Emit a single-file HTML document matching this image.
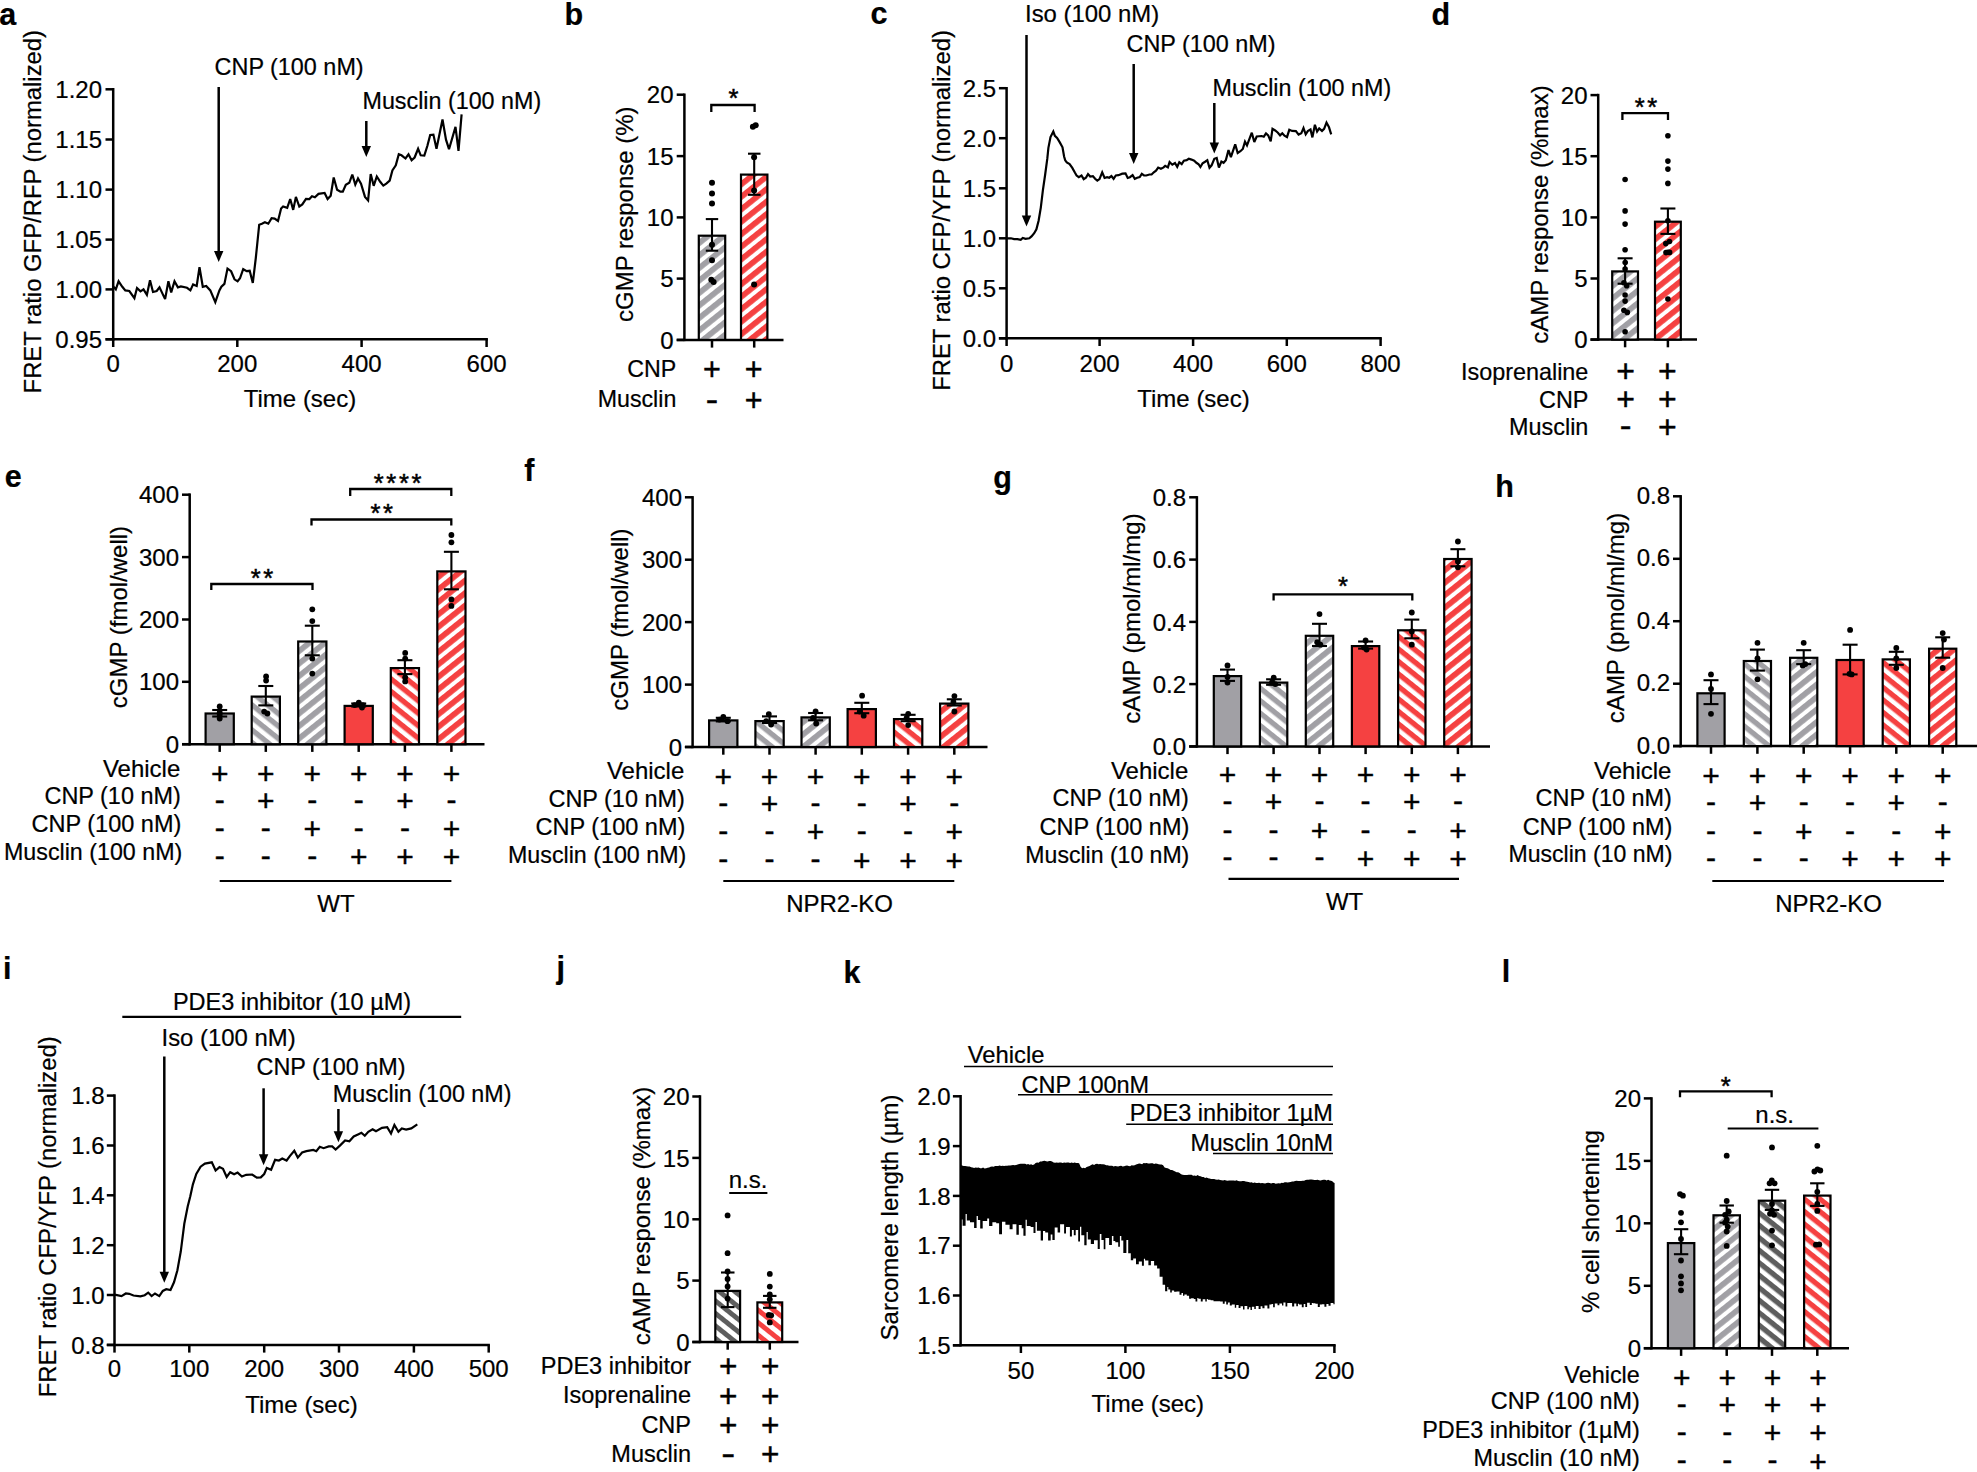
<!DOCTYPE html>
<html lang="en"><head><meta charset="utf-8"><title>Figure</title>
<style>html,body{margin:0;padding:0;background:#fff}svg{display:block}text{font-family:"Liberation Sans",sans-serif;font-size:24px;fill:#000;stroke:#000;stroke-width:.22px}.pm{stroke-width:.45px}.st{stroke-width:.5px}</style></head><body>
<svg width="1977" height="1472" viewBox="0 0 1977 1472">
<rect width="1977" height="1472" fill="#fff"/>
<defs>
<pattern id="gF" patternUnits="userSpaceOnUse" width="20" height="9.75" patternTransform="rotate(-38.7)"><rect width="20" height="9.75" fill="#fff"/><rect width="20" height="5.7" fill="#a1a0a5"/></pattern>
<pattern id="gB" patternUnits="userSpaceOnUse" width="20" height="9.75" patternTransform="rotate(38.7)"><rect width="20" height="9.75" fill="#fff"/><rect width="20" height="5.3" fill="#a1a0a5"/></pattern>
<pattern id="rF" patternUnits="userSpaceOnUse" width="20" height="9.75" patternTransform="rotate(-38.7)"><rect width="20" height="9.75" fill="#fff"/><rect width="20" height="5.7" fill="#f54141"/></pattern>
<pattern id="rB" patternUnits="userSpaceOnUse" width="20" height="9.75" patternTransform="rotate(38.7)"><rect width="20" height="9.75" fill="#fff"/><rect width="20" height="5.3" fill="#f54141"/></pattern>
<pattern id="dB" patternUnits="userSpaceOnUse" width="20" height="9.75" patternTransform="rotate(38.7)"><rect width="20" height="9.75" fill="#fff"/><rect width="20" height="5.3" fill="#5e5e5e"/></pattern>
<pattern id="dJ" patternUnits="userSpaceOnUse" width="20" height="9.75" patternTransform="rotate(38.7)"><rect width="20" height="9.75" fill="#fff"/><rect width="20" height="4.9" fill="#5e5e5e"/></pattern>
<pattern id="rJ" patternUnits="userSpaceOnUse" width="20" height="9.75" patternTransform="rotate(38.7)"><rect width="20" height="9.75" fill="#fff"/><rect width="20" height="4.9" fill="#f54141"/></pattern>
</defs>
<text x="-0.8" y="25" font-weight="bold" style="font-size:30.5px">a</text>
<line x1="113.2" y1="88" x2="113.2" y2="340.6" stroke="#000" stroke-width="2.5" stroke-linecap="butt"/>
<line x1="105.5" y1="89.3" x2="113.2" y2="89.3" stroke="#000" stroke-width="2.5" stroke-linecap="butt"/>
<text x="102" y="97.9" text-anchor="end">1.20</text>
<line x1="105.5" y1="139.5" x2="113.2" y2="139.5" stroke="#000" stroke-width="2.5" stroke-linecap="butt"/>
<text x="102" y="148.1" text-anchor="end">1.15</text>
<line x1="105.5" y1="189.6" x2="113.2" y2="189.6" stroke="#000" stroke-width="2.5" stroke-linecap="butt"/>
<text x="102" y="198.2" text-anchor="end">1.10</text>
<line x1="105.5" y1="239.6" x2="113.2" y2="239.6" stroke="#000" stroke-width="2.5" stroke-linecap="butt"/>
<text x="102" y="248.2" text-anchor="end">1.05</text>
<line x1="105.5" y1="289.4" x2="113.2" y2="289.4" stroke="#000" stroke-width="2.5" stroke-linecap="butt"/>
<text x="102" y="298" text-anchor="end">1.00</text>
<line x1="105.5" y1="339.3" x2="113.2" y2="339.3" stroke="#000" stroke-width="2.5" stroke-linecap="butt"/>
<text x="102" y="347.9" text-anchor="end">0.95</text>
<line x1="105.5" y1="339.3" x2="487.9" y2="339.3" stroke="#000" stroke-width="2.5" stroke-linecap="butt"/>
<line x1="113.2" y1="339.3" x2="113.2" y2="347" stroke="#000" stroke-width="2.5" stroke-linecap="butt"/>
<text x="113.2" y="371.7" text-anchor="middle">0</text>
<line x1="237.3" y1="339.3" x2="237.3" y2="347" stroke="#000" stroke-width="2.5" stroke-linecap="butt"/>
<text x="237.3" y="371.7" text-anchor="middle">200</text>
<line x1="361.6" y1="339.3" x2="361.6" y2="347" stroke="#000" stroke-width="2.5" stroke-linecap="butt"/>
<text x="361.6" y="371.7" text-anchor="middle">400</text>
<line x1="486.6" y1="339.3" x2="486.6" y2="347" stroke="#000" stroke-width="2.5" stroke-linecap="butt"/>
<text x="486.6" y="371.7" text-anchor="middle">600</text>
<text x="300" y="407.4" text-anchor="middle">Time (sec)</text>
<text x="41.5" y="211.7" text-anchor="middle" transform="rotate(-90 41.5 211.7)" style="font-size:23.85px">FRET ratio GFP/RFP (normalized)</text>
<text x="214.6" y="75" style="font-size:23.4px">CNP (100 nM)</text>
<text x="362.5" y="109" style="font-size:23.3px">Musclin (100 nM)</text>
<line x1="218.7" y1="87" x2="218.7" y2="252" stroke="#000" stroke-width="2.5" stroke-linecap="butt"/>
<polygon points="214,251 223.4,251 218.7,262" fill="#000"/>
<line x1="366.3" y1="121" x2="366.3" y2="147" stroke="#000" stroke-width="2.5" stroke-linecap="butt"/>
<polygon points="361.6,146 371,146 366.3,157" fill="#000"/>
<polyline fill="none" stroke="#000" stroke-width="2.2" stroke-linejoin="miter" stroke-miterlimit="3" points="113.2,286.4 115.8,289.4 118.6,281.3 122.3,286.8 125.3,290.4 129.3,291 134.4,298.1 137,288 140.5,291.4 143.5,289.4 146.9,294.9 150,280.3 153,292 156.7,291 159.5,287.4 165.1,299.1 168.4,281.3 171.2,292.4 174.5,281.3 177.9,287.4 180.9,286.4 187,287.8 190.4,290.4 193.1,284.4 196.7,286 199.5,267.2 202.8,286.8 206.2,286 210.3,290.4 215.3,302.2 219.4,290.4 221.4,286.8 224.4,283.9 227.5,268.6 231.1,271.2 234.5,279.3 237.6,281.3 240,278.3 243.2,269.2 246.7,271.2 249.7,270.8 252.8,282.9 255.8,258 259.2,224.7 261.9,223.7 264.9,222.2 268.3,223.7 271.6,218.2 274.6,218.6 278,221 281.1,208.5 283.1,206.5 287.2,207.9 290.2,199 293.2,209.9 295.9,196.9 299.3,206.5 302.3,204.4 306,198.8 309.4,199 312,196.3 314.9,197.3 318.5,193.9 324.6,192.9 327.6,199 330.7,195.7 333.7,177.5 337.1,189.7 340.4,191.7 342.8,191.7 345.8,184.8 349.3,182.8 352.3,174.5 355.3,184.6 358,178.5 361,183.8 365,196.9 368.1,200.4 370.7,174.1 373.7,185.8 376.8,176.5 380.2,181.8 383.3,185.6 386.3,183.6 389.7,180.6 392.4,170.4 395.8,165.4 398.8,154.3 401.5,155.3 405.5,158.5 408.5,154.3 411.6,160.3 414.6,157.5 418.1,148.8 420.7,155.3 424.3,155.5 427.4,145.8 430.2,135 433.4,134.6 436.5,148.8 442.5,119.5 446,139.7 449,149.2 455.5,126.9 458.5,150.8 461.6,114.4"/>
<text x="564.5" y="25" font-weight="bold" style="font-size:30.5px">b</text>
<line x1="684.4" y1="93.5" x2="684.4" y2="341.1" stroke="#000" stroke-width="2.5" stroke-linecap="butt"/>
<line x1="676.7" y1="94.7" x2="684.4" y2="94.7" stroke="#000" stroke-width="2.5" stroke-linecap="butt"/>
<text x="673.5" y="103.3" text-anchor="end">20</text>
<line x1="676.7" y1="156.1" x2="684.4" y2="156.1" stroke="#000" stroke-width="2.5" stroke-linecap="butt"/>
<text x="673.5" y="164.7" text-anchor="end">15</text>
<line x1="676.7" y1="217.4" x2="684.4" y2="217.4" stroke="#000" stroke-width="2.5" stroke-linecap="butt"/>
<text x="673.5" y="226" text-anchor="end">10</text>
<line x1="676.7" y1="278.6" x2="684.4" y2="278.6" stroke="#000" stroke-width="2.5" stroke-linecap="butt"/>
<text x="673.5" y="287.2" text-anchor="end">5</text>
<line x1="676.7" y1="339.9" x2="684.4" y2="339.9" stroke="#000" stroke-width="2.5" stroke-linecap="butt"/>
<text x="673.5" y="348.5" text-anchor="end">0</text>
<line x1="676.7" y1="339.9" x2="783.5" y2="339.9" stroke="#000" stroke-width="2.5" stroke-linecap="butt"/>
<line x1="712" y1="339.9" x2="712" y2="347.6" stroke="#000" stroke-width="2.5" stroke-linecap="butt"/>
<line x1="754.2" y1="339.9" x2="754.2" y2="347.6" stroke="#000" stroke-width="2.5" stroke-linecap="butt"/>
<text x="632.7" y="214.2" text-anchor="middle" transform="rotate(-90 632.7 214.2)">cGMP response (%)</text>
<rect x="698.8" y="235.7" width="26.4" height="104.2" fill="url(#gF)" stroke="#000" stroke-width="2.2"/>
<rect x="741" y="174.6" width="26.4" height="165.3" fill="url(#rF)" stroke="#000" stroke-width="2.2"/>
<line x1="712" y1="219.1" x2="712" y2="250.7" stroke="#000" stroke-width="2.1" stroke-linecap="butt"/>
<line x1="705.8" y1="219.1" x2="718.2" y2="219.1" stroke="#000" stroke-width="2.1" stroke-linecap="butt"/>
<line x1="705.8" y1="250.7" x2="718.2" y2="250.7" stroke="#000" stroke-width="2.1" stroke-linecap="butt"/>
<line x1="754.2" y1="153.7" x2="754.2" y2="194.8" stroke="#000" stroke-width="2.1" stroke-linecap="butt"/>
<line x1="748" y1="153.7" x2="760.5" y2="153.7" stroke="#000" stroke-width="2.1" stroke-linecap="butt"/>
<line x1="748" y1="194.8" x2="760.5" y2="194.8" stroke="#000" stroke-width="2.1" stroke-linecap="butt"/>
<circle cx="712" cy="182.7" r="3.0"/>
<circle cx="712" cy="193.4" r="3.0"/>
<circle cx="712" cy="203.6" r="3.0"/>
<circle cx="712" cy="244.8" r="3.0"/>
<circle cx="712" cy="260.2" r="3.0"/>
<circle cx="711.3" cy="279.7" r="3.0"/>
<circle cx="713.6" cy="282.1" r="3.0"/>
<circle cx="752.9" cy="126.8" r="3.0"/>
<circle cx="755.7" cy="125.2" r="3.0"/>
<circle cx="754.1" cy="157.3" r="3.0"/>
<circle cx="754.1" cy="190.6" r="3.0"/>
<circle cx="754.1" cy="284.5" r="3.0"/>
<polyline fill="none" stroke="#000" stroke-width="2.3" points="711.3,112 711.3,105 754.6,105 754.6,112"/>
<text x="734.7" y="107.3" text-anchor="middle" style="font-size:25.5px" letter-spacing="2.6" class="st">*</text>
<text x="676.3" y="376.6" text-anchor="end" style="font-size:23.2px">CNP</text>
<text x="676.3" y="407.4" text-anchor="end" style="font-size:23.2px">Musclin</text>
<text x="711.9" y="380" text-anchor="middle" style="font-size:30.5px" class="pm">+</text>
<text x="753.6" y="380" text-anchor="middle" style="font-size:30.5px" class="pm">+</text>
<text transform="translate(711.9 409.7) scale(1.22 1)" text-anchor="middle" class="pm" style="font-size:30.5px">-</text>
<text x="753.6" y="411" text-anchor="middle" style="font-size:30.5px" class="pm">+</text>
<text x="870.5" y="23.5" font-weight="bold" style="font-size:30.5px">c</text>
<line x1="1006.6" y1="87" x2="1006.6" y2="339.6" stroke="#000" stroke-width="2.5" stroke-linecap="butt"/>
<line x1="998.9" y1="88.2" x2="1006.6" y2="88.2" stroke="#000" stroke-width="2.5" stroke-linecap="butt"/>
<text x="996" y="96.8" text-anchor="end">2.5</text>
<line x1="998.9" y1="138.2" x2="1006.6" y2="138.2" stroke="#000" stroke-width="2.5" stroke-linecap="butt"/>
<text x="996" y="146.8" text-anchor="end">2.0</text>
<line x1="998.9" y1="188.3" x2="1006.6" y2="188.3" stroke="#000" stroke-width="2.5" stroke-linecap="butt"/>
<text x="996" y="196.9" text-anchor="end">1.5</text>
<line x1="998.9" y1="238.3" x2="1006.6" y2="238.3" stroke="#000" stroke-width="2.5" stroke-linecap="butt"/>
<text x="996" y="246.9" text-anchor="end">1.0</text>
<line x1="998.9" y1="288.3" x2="1006.6" y2="288.3" stroke="#000" stroke-width="2.5" stroke-linecap="butt"/>
<text x="996" y="296.9" text-anchor="end">0.5</text>
<line x1="998.9" y1="338.3" x2="1006.6" y2="338.3" stroke="#000" stroke-width="2.5" stroke-linecap="butt"/>
<text x="996" y="346.9" text-anchor="end">0.0</text>
<line x1="998.9" y1="338.3" x2="1381.8" y2="338.3" stroke="#000" stroke-width="2.5" stroke-linecap="butt"/>
<line x1="1006.6" y1="338.3" x2="1006.6" y2="346" stroke="#000" stroke-width="2.5" stroke-linecap="butt"/>
<text x="1006.6" y="371.5" text-anchor="middle">0</text>
<line x1="1099.6" y1="338.3" x2="1099.6" y2="346" stroke="#000" stroke-width="2.5" stroke-linecap="butt"/>
<text x="1099.6" y="371.5" text-anchor="middle">200</text>
<line x1="1193.1" y1="338.3" x2="1193.1" y2="346" stroke="#000" stroke-width="2.5" stroke-linecap="butt"/>
<text x="1193.1" y="371.5" text-anchor="middle">400</text>
<line x1="1286.8" y1="338.3" x2="1286.8" y2="346" stroke="#000" stroke-width="2.5" stroke-linecap="butt"/>
<text x="1286.8" y="371.5" text-anchor="middle">600</text>
<line x1="1380.6" y1="338.3" x2="1380.6" y2="346" stroke="#000" stroke-width="2.5" stroke-linecap="butt"/>
<text x="1380.6" y="371.5" text-anchor="middle">800</text>
<text x="1193.5" y="406.5" text-anchor="middle">Time (sec)</text>
<text x="949.7" y="210.4" text-anchor="middle" transform="rotate(-90 949.7 210.4)" style="font-size:23.85px">FRET ratio CFP/YFP (normalized)</text>
<text x="1025" y="21.5" style="font-size:23.9px">Iso (100 nM)</text>
<text x="1126.5" y="52" style="font-size:23.4px">CNP (100 nM)</text>
<text x="1212.5" y="95.5" style="font-size:23.3px">Musclin (100 nM)</text>
<line x1="1026.5" y1="35" x2="1026.5" y2="216.5" stroke="#000" stroke-width="2.5" stroke-linecap="butt"/>
<polygon points="1021.8,215.5 1031.2,215.5 1026.5,226.5" fill="#000"/>
<line x1="1133.7" y1="64" x2="1133.7" y2="154" stroke="#000" stroke-width="2.5" stroke-linecap="butt"/>
<polygon points="1129,153 1138.4,153 1133.7,164" fill="#000"/>
<line x1="1214.3" y1="103" x2="1214.3" y2="143.5" stroke="#000" stroke-width="2.5" stroke-linecap="butt"/>
<polygon points="1209.6,142.5 1219,142.5 1214.3,153.5" fill="#000"/>
<polyline fill="none" stroke="#000" stroke-width="2.2" stroke-linejoin="miter" stroke-miterlimit="3" points="1006.7,238.3 1010.9,238.3 1014.1,239.1 1017.4,239.1 1020.7,239.9 1022.8,238 1025.5,238.9 1029.3,238.3 1031.5,236.4 1034.2,233.2 1036.4,229.3 1038.6,220.7 1040.8,207.6 1042.9,190.2 1045.1,175 1047.3,158.7 1048.4,147.8 1050.5,137 1053.3,131.5 1054.9,135.9 1057.1,138 1059.8,142.4 1062.5,147.3 1064.1,156.5 1065.2,160.3 1066.8,162.5 1069.6,164.1 1072.3,167.9 1075,172.8 1076.6,175.5 1078.8,177.2 1081.5,175.5 1083.7,179.1 1085.9,177.7 1088,174.1 1090.2,176.6 1092.9,176.1 1095.1,178.8 1097.3,180.7 1099.5,179.1 1102.2,172.3 1104.6,178 1107.1,177.2 1109.2,177.7 1111.4,176.1 1113.6,178.8 1115.8,175.5 1118.5,175.2 1122.3,173.7 1125.5,173.4 1127.7,178 1129.9,177.2 1132.6,175.2 1134.8,178.8 1137.2,177.7 1139.7,177 1141.8,173.9 1144,175.5 1146.2,175.5 1149.5,174.5 1151.6,174.5 1153.8,172.3 1156,170.7 1158.2,167.6 1160.9,168.7 1163.6,167.4 1165.2,165.8 1167.9,167.4 1169.6,162 1172.3,164.7 1175,163 1177.2,166.8 1179.3,162.2 1181.7,164.2 1183.9,160.7 1186.6,160.2 1188.8,158.8 1191.5,159.6 1194.2,160.7 1196.4,162.8 1198.6,164.2 1200.4,167 1202.6,163.2 1205.1,161.7 1207.3,160.2 1209.5,167.8 1211.6,165.3 1214.3,158.8 1216.7,158 1218.9,167.5 1221.4,161.5 1223.6,162.8 1225.8,160.2 1228.5,150.1 1230.9,157.2 1235.2,144.3 1237.7,153 1240.4,151.2 1242.8,149 1245,141.7 1247,145.4 1251.8,132.7 1254.3,142 1256.7,136.5 1261.6,136 1263.8,136.7 1266,133.5 1268.2,135.4 1270.7,141.4 1272.5,128.9 1275.2,130.5 1277.9,132.7 1280.1,135.4 1282.3,133.3 1284.5,135.7 1287,137.1 1289.3,129.8 1292.1,130.9 1295.9,131.1 1298.6,134.6 1301.3,133.3 1303.5,128 1305.7,134.3 1307.8,131.1 1310.5,129.5 1312.4,137.4 1314.9,124.8 1317.1,131.6 1319.2,128.4 1322,130.9 1324.1,128.9 1326.5,122.6 1329,127.3 1331.2,134.3"/>
<text x="1431.5" y="24.8" font-weight="bold" style="font-size:30.5px">d</text>
<line x1="1598.2" y1="93.8" x2="1598.2" y2="340.9" stroke="#000" stroke-width="2.5" stroke-linecap="butt"/>
<line x1="1590.5" y1="95.1" x2="1598.2" y2="95.1" stroke="#000" stroke-width="2.5" stroke-linecap="butt"/>
<text x="1587.5" y="103.7" text-anchor="end">20</text>
<line x1="1590.5" y1="156.2" x2="1598.2" y2="156.2" stroke="#000" stroke-width="2.5" stroke-linecap="butt"/>
<text x="1587.5" y="164.8" text-anchor="end">15</text>
<line x1="1590.5" y1="217.4" x2="1598.2" y2="217.4" stroke="#000" stroke-width="2.5" stroke-linecap="butt"/>
<text x="1587.5" y="226" text-anchor="end">10</text>
<line x1="1590.5" y1="278.5" x2="1598.2" y2="278.5" stroke="#000" stroke-width="2.5" stroke-linecap="butt"/>
<text x="1587.5" y="287.1" text-anchor="end">5</text>
<line x1="1590.5" y1="339.6" x2="1598.2" y2="339.6" stroke="#000" stroke-width="2.5" stroke-linecap="butt"/>
<text x="1587.5" y="348.2" text-anchor="end">0</text>
<line x1="1590.5" y1="339.6" x2="1697" y2="339.6" stroke="#000" stroke-width="2.5" stroke-linecap="butt"/>
<line x1="1625.1" y1="339.6" x2="1625.1" y2="347.3" stroke="#000" stroke-width="2.5" stroke-linecap="butt"/>
<line x1="1667.9" y1="339.6" x2="1667.9" y2="347.3" stroke="#000" stroke-width="2.5" stroke-linecap="butt"/>
<text x="1548" y="214.5" text-anchor="middle" transform="rotate(-90 1548 214.5)">cAMP response (%max)</text>
<rect x="1612.2" y="271.4" width="25.8" height="68.2" fill="url(#gF)" stroke="#000" stroke-width="2.2"/>
<rect x="1655" y="221.7" width="25.8" height="117.9" fill="url(#rF)" stroke="#000" stroke-width="2.2"/>
<line x1="1625.1" y1="258.3" x2="1625.1" y2="283.7" stroke="#000" stroke-width="2.1" stroke-linecap="butt"/>
<line x1="1617.6" y1="258.3" x2="1632.6" y2="258.3" stroke="#000" stroke-width="2.1" stroke-linecap="butt"/>
<line x1="1617.6" y1="283.7" x2="1632.6" y2="283.7" stroke="#000" stroke-width="2.1" stroke-linecap="butt"/>
<line x1="1667.9" y1="208.5" x2="1667.9" y2="233.9" stroke="#000" stroke-width="2.1" stroke-linecap="butt"/>
<line x1="1660.4" y1="208.5" x2="1675.4" y2="208.5" stroke="#000" stroke-width="2.1" stroke-linecap="butt"/>
<line x1="1660.4" y1="233.9" x2="1675.4" y2="233.9" stroke="#000" stroke-width="2.1" stroke-linecap="butt"/>
<circle cx="1625.1" cy="179.5" r="2.8"/>
<circle cx="1625.1" cy="210.9" r="2.8"/>
<circle cx="1625.1" cy="224.1" r="2.8"/>
<circle cx="1625.1" cy="249.8" r="2.8"/>
<circle cx="1625.1" cy="269" r="2.8"/>
<circle cx="1623.9" cy="282.8" r="2.8"/>
<circle cx="1626.7" cy="285.8" r="2.8"/>
<circle cx="1625.1" cy="295" r="2.8"/>
<circle cx="1625.1" cy="301.1" r="2.8"/>
<circle cx="1623.9" cy="310.3" r="2.8"/>
<circle cx="1627.3" cy="312.4" r="2.8"/>
<circle cx="1625.1" cy="331.7" r="2.8"/>
<circle cx="1667.9" cy="135.7" r="2.8"/>
<circle cx="1667.9" cy="161.1" r="2.8"/>
<circle cx="1667.9" cy="169.1" r="2.8"/>
<circle cx="1667.9" cy="183.4" r="2.8"/>
<circle cx="1667.9" cy="220.7" r="2.8"/>
<circle cx="1669.5" cy="241.5" r="2.8"/>
<circle cx="1665.8" cy="243.6" r="2.8"/>
<circle cx="1667.9" cy="252.2" r="2.8"/>
<circle cx="1667.9" cy="299" r="2.8"/>
<circle cx="1625.2" cy="262.5" r="2.8"/>
<circle cx="1669.6" cy="252.4" r="2.8"/>
<circle cx="1666" cy="252.6" r="2.8"/>
<polyline fill="none" stroke="#000" stroke-width="2.3" points="1622.4,120.1 1622.4,113.1 1668,113.1 1668,120.1"/>
<text x="1647.2" y="116" text-anchor="middle" style="font-size:25.5px" letter-spacing="2.6" class="st">**</text>
<text x="1588.4" y="379.7" text-anchor="end" style="font-size:23.4px">Isoprenaline</text>
<text x="1588.4" y="407.5" text-anchor="end" style="font-size:23.4px">CNP</text>
<text x="1588.4" y="435.3" text-anchor="end" style="font-size:23.4px">Musclin</text>
<text x="1625.6" y="381.8" text-anchor="middle" style="font-size:32px" class="pm">+</text>
<text x="1667.4" y="381.8" text-anchor="middle" style="font-size:32px" class="pm">+</text>
<text x="1625.6" y="409.7" text-anchor="middle" style="font-size:32px" class="pm">+</text>
<text x="1667.4" y="409.7" text-anchor="middle" style="font-size:32px" class="pm">+</text>
<text transform="translate(1625.6 436.4) scale(1.1 1)" text-anchor="middle" class="pm" style="font-size:32px">-</text>
<text x="1667.4" y="437.7" text-anchor="middle" style="font-size:32px" class="pm">+</text>
<text x="4.8" y="486.5" font-weight="bold" style="font-size:30.5px">e</text>
<line x1="189.7" y1="493.4" x2="189.7" y2="745.5" stroke="#000" stroke-width="2.5" stroke-linecap="butt"/>
<line x1="182" y1="494.7" x2="189.7" y2="494.7" stroke="#000" stroke-width="2.5" stroke-linecap="butt"/>
<text x="179" y="503.3" text-anchor="end">400</text>
<line x1="182" y1="557.1" x2="189.7" y2="557.1" stroke="#000" stroke-width="2.5" stroke-linecap="butt"/>
<text x="179" y="565.7" text-anchor="end">300</text>
<line x1="182" y1="619.5" x2="189.7" y2="619.5" stroke="#000" stroke-width="2.5" stroke-linecap="butt"/>
<text x="179" y="628.1" text-anchor="end">200</text>
<line x1="182" y1="681.8" x2="189.7" y2="681.8" stroke="#000" stroke-width="2.5" stroke-linecap="butt"/>
<text x="179" y="690.4" text-anchor="end">100</text>
<line x1="182" y1="744.2" x2="189.7" y2="744.2" stroke="#000" stroke-width="2.5" stroke-linecap="butt"/>
<text x="179" y="752.8" text-anchor="end">0</text>
<line x1="182" y1="744.2" x2="484.5" y2="744.2" stroke="#000" stroke-width="2.5" stroke-linecap="butt"/>
<line x1="219.7" y1="744.2" x2="219.7" y2="751.9" stroke="#000" stroke-width="2.5" stroke-linecap="butt"/>
<line x1="265.8" y1="744.2" x2="265.8" y2="751.9" stroke="#000" stroke-width="2.5" stroke-linecap="butt"/>
<line x1="312.3" y1="744.2" x2="312.3" y2="751.9" stroke="#000" stroke-width="2.5" stroke-linecap="butt"/>
<line x1="358.7" y1="744.2" x2="358.7" y2="751.9" stroke="#000" stroke-width="2.5" stroke-linecap="butt"/>
<line x1="404.9" y1="744.2" x2="404.9" y2="751.9" stroke="#000" stroke-width="2.5" stroke-linecap="butt"/>
<line x1="451.4" y1="744.2" x2="451.4" y2="751.9" stroke="#000" stroke-width="2.5" stroke-linecap="butt"/>
<text x="127" y="617" text-anchor="middle" transform="rotate(-90 127 617)">cGMP (fmol/well)</text>
<rect x="205.6" y="713.5" width="28.2" height="30.7" fill="#a1a0a5" stroke="#000" stroke-width="2.2"/>
<rect x="251.7" y="696.6" width="28.2" height="47.6" fill="url(#gB)" stroke="#000" stroke-width="2.2"/>
<rect x="298.2" y="641.5" width="28.2" height="102.7" fill="url(#gF)" stroke="#000" stroke-width="2.2"/>
<rect x="344.6" y="705.9" width="28.2" height="38.3" fill="#f54141" stroke="#000" stroke-width="2.2"/>
<rect x="390.8" y="668.1" width="28.2" height="76.1" fill="url(#rB)" stroke="#000" stroke-width="2.2"/>
<rect x="437.3" y="571.4" width="28.2" height="172.8" fill="url(#rF)" stroke="#000" stroke-width="2.2"/>
<line x1="219.7" y1="710" x2="219.7" y2="716.5" stroke="#000" stroke-width="2.1" stroke-linecap="butt"/>
<line x1="212.2" y1="710" x2="227.2" y2="710" stroke="#000" stroke-width="2.1" stroke-linecap="butt"/>
<line x1="212.2" y1="716.5" x2="227.2" y2="716.5" stroke="#000" stroke-width="2.1" stroke-linecap="butt"/>
<line x1="265.8" y1="686" x2="265.8" y2="705.4" stroke="#000" stroke-width="2.1" stroke-linecap="butt"/>
<line x1="258.3" y1="686" x2="273.3" y2="686" stroke="#000" stroke-width="2.1" stroke-linecap="butt"/>
<line x1="258.3" y1="705.4" x2="273.3" y2="705.4" stroke="#000" stroke-width="2.1" stroke-linecap="butt"/>
<line x1="312.3" y1="625.7" x2="312.3" y2="655.3" stroke="#000" stroke-width="2.1" stroke-linecap="butt"/>
<line x1="304.8" y1="625.7" x2="319.8" y2="625.7" stroke="#000" stroke-width="2.1" stroke-linecap="butt"/>
<line x1="304.8" y1="655.3" x2="319.8" y2="655.3" stroke="#000" stroke-width="2.1" stroke-linecap="butt"/>
<line x1="358.7" y1="703.5" x2="358.7" y2="706.5" stroke="#000" stroke-width="2.1" stroke-linecap="butt"/>
<line x1="351.2" y1="703.5" x2="366.2" y2="703.5" stroke="#000" stroke-width="2.1" stroke-linecap="butt"/>
<line x1="351.2" y1="706.5" x2="366.2" y2="706.5" stroke="#000" stroke-width="2.1" stroke-linecap="butt"/>
<line x1="404.9" y1="660.2" x2="404.9" y2="674.1" stroke="#000" stroke-width="2.1" stroke-linecap="butt"/>
<line x1="397.4" y1="660.2" x2="412.4" y2="660.2" stroke="#000" stroke-width="2.1" stroke-linecap="butt"/>
<line x1="397.4" y1="674.1" x2="412.4" y2="674.1" stroke="#000" stroke-width="2.1" stroke-linecap="butt"/>
<line x1="451.4" y1="551.8" x2="451.4" y2="589.3" stroke="#000" stroke-width="2.1" stroke-linecap="butt"/>
<line x1="443.9" y1="551.8" x2="458.9" y2="551.8" stroke="#000" stroke-width="2.1" stroke-linecap="butt"/>
<line x1="443.9" y1="589.3" x2="458.9" y2="589.3" stroke="#000" stroke-width="2.1" stroke-linecap="butt"/>
<circle cx="219.7" cy="706.4" r="2.9"/>
<circle cx="219.7" cy="712.4" r="2.9"/>
<circle cx="219.7" cy="714.8" r="2.9"/>
<circle cx="219.7" cy="718.6" r="2.9"/>
<circle cx="266.1" cy="676.5" r="2.9"/>
<circle cx="266.1" cy="680.6" r="2.9"/>
<circle cx="264.2" cy="711.6" r="2.9"/>
<circle cx="267.4" cy="713.5" r="2.9"/>
<circle cx="312.3" cy="609.3" r="2.9"/>
<circle cx="312.3" cy="621.1" r="2.9"/>
<circle cx="312.3" cy="658.6" r="2.9"/>
<circle cx="312.3" cy="673.6" r="2.9"/>
<circle cx="354.7" cy="705.1" r="2.9"/>
<circle cx="358.8" cy="702.6" r="2.9"/>
<circle cx="362.8" cy="705.1" r="2.9"/>
<circle cx="362" cy="707.5" r="2.9"/>
<circle cx="405.2" cy="652.9" r="2.9"/>
<circle cx="405.2" cy="658.6" r="2.9"/>
<circle cx="405.2" cy="677.3" r="2.9"/>
<circle cx="405.2" cy="681.4" r="2.9"/>
<circle cx="451.4" cy="535" r="2.9"/>
<circle cx="451.4" cy="542.3" r="2.9"/>
<circle cx="451.4" cy="599.4" r="2.9"/>
<circle cx="451.4" cy="605.9" r="2.9"/>
<text x="180.3" y="776.8" text-anchor="end">Vehicle</text>
<text x="219.7" y="784" text-anchor="middle" style="font-size:30px" class="pm">+</text>
<text x="265.8" y="784" text-anchor="middle" style="font-size:30px" class="pm">+</text>
<text x="312.3" y="784" text-anchor="middle" style="font-size:30px" class="pm">+</text>
<text x="358.7" y="784" text-anchor="middle" style="font-size:30px" class="pm">+</text>
<text x="404.9" y="784" text-anchor="middle" style="font-size:30px" class="pm">+</text>
<text x="451.4" y="784" text-anchor="middle" style="font-size:30px" class="pm">+</text>
<text x="180.8" y="803.8" text-anchor="end" style="font-size:23.45px">CNP (10 nM)</text>
<text x="219.7" y="809.7" text-anchor="middle" style="font-size:30px" class="pm">-</text>
<text x="265.8" y="811" text-anchor="middle" style="font-size:30px" class="pm">+</text>
<text x="312.3" y="809.7" text-anchor="middle" style="font-size:30px" class="pm">-</text>
<text x="358.7" y="809.7" text-anchor="middle" style="font-size:30px" class="pm">-</text>
<text x="404.9" y="811" text-anchor="middle" style="font-size:30px" class="pm">+</text>
<text x="451.4" y="809.7" text-anchor="middle" style="font-size:30px" class="pm">-</text>
<text x="181.3" y="831.8" text-anchor="end" style="font-size:23.5px">CNP (100 nM)</text>
<text x="219.7" y="837.7" text-anchor="middle" style="font-size:30px" class="pm">-</text>
<text x="265.8" y="837.7" text-anchor="middle" style="font-size:30px" class="pm">-</text>
<text x="312.3" y="839" text-anchor="middle" style="font-size:30px" class="pm">+</text>
<text x="358.7" y="837.7" text-anchor="middle" style="font-size:30px" class="pm">-</text>
<text x="404.9" y="837.7" text-anchor="middle" style="font-size:30px" class="pm">-</text>
<text x="451.4" y="839" text-anchor="middle" style="font-size:30px" class="pm">+</text>
<text x="182.3" y="860" text-anchor="end" style="font-size:23.25px">Musclin (100 nM)</text>
<text x="219.7" y="865.9" text-anchor="middle" style="font-size:30px" class="pm">-</text>
<text x="265.8" y="865.9" text-anchor="middle" style="font-size:30px" class="pm">-</text>
<text x="312.3" y="865.9" text-anchor="middle" style="font-size:30px" class="pm">-</text>
<text x="358.7" y="867.2" text-anchor="middle" style="font-size:30px" class="pm">+</text>
<text x="404.9" y="867.2" text-anchor="middle" style="font-size:30px" class="pm">+</text>
<text x="451.4" y="867.2" text-anchor="middle" style="font-size:30px" class="pm">+</text>
<line x1="219.7" y1="881" x2="451.4" y2="881" stroke="#000" stroke-width="2.2" stroke-linecap="butt"/>
<text x="336" y="911.8" text-anchor="middle">WT</text>
<polyline fill="none" stroke="#000" stroke-width="2.3" points="211.3,590 211.3,584 312.5,584 312.5,590"/>
<text x="263.2" y="586.8" text-anchor="middle" style="font-size:25.5px" letter-spacing="2.6" class="st">**</text>
<polyline fill="none" stroke="#000" stroke-width="2.3" points="311.5,525.5 311.5,519.5 451.3,519.5 451.3,525.5"/>
<text x="383" y="522" text-anchor="middle" style="font-size:25.5px" letter-spacing="2.6" class="st">**</text>
<polyline fill="none" stroke="#000" stroke-width="2.3" points="350.2,496 350.2,489 451.3,489 451.3,496"/>
<text x="398.9" y="491.6" text-anchor="middle" style="font-size:25.5px" letter-spacing="2.6" class="st">****</text>
<text x="524.3" y="481" font-weight="bold" style="font-size:30.5px">f</text>
<line x1="692.6" y1="496.1" x2="692.6" y2="748.2" stroke="#000" stroke-width="2.5" stroke-linecap="butt"/>
<line x1="684.9" y1="497.3" x2="692.6" y2="497.3" stroke="#000" stroke-width="2.5" stroke-linecap="butt"/>
<text x="682" y="505.9" text-anchor="end">400</text>
<line x1="684.9" y1="559.7" x2="692.6" y2="559.7" stroke="#000" stroke-width="2.5" stroke-linecap="butt"/>
<text x="682" y="568.3" text-anchor="end">300</text>
<line x1="684.9" y1="622.1" x2="692.6" y2="622.1" stroke="#000" stroke-width="2.5" stroke-linecap="butt"/>
<text x="682" y="630.7" text-anchor="end">200</text>
<line x1="684.9" y1="684.6" x2="692.6" y2="684.6" stroke="#000" stroke-width="2.5" stroke-linecap="butt"/>
<text x="682" y="693.2" text-anchor="end">100</text>
<line x1="684.9" y1="747" x2="692.6" y2="747" stroke="#000" stroke-width="2.5" stroke-linecap="butt"/>
<text x="682" y="755.6" text-anchor="end">0</text>
<line x1="684.9" y1="747" x2="987.5" y2="747" stroke="#000" stroke-width="2.5" stroke-linecap="butt"/>
<line x1="723.3" y1="747" x2="723.3" y2="754.7" stroke="#000" stroke-width="2.5" stroke-linecap="butt"/>
<line x1="769.5" y1="747" x2="769.5" y2="754.7" stroke="#000" stroke-width="2.5" stroke-linecap="butt"/>
<line x1="815.6" y1="747" x2="815.6" y2="754.7" stroke="#000" stroke-width="2.5" stroke-linecap="butt"/>
<line x1="861.8" y1="747" x2="861.8" y2="754.7" stroke="#000" stroke-width="2.5" stroke-linecap="butt"/>
<line x1="908.1" y1="747" x2="908.1" y2="754.7" stroke="#000" stroke-width="2.5" stroke-linecap="butt"/>
<line x1="954.3" y1="747" x2="954.3" y2="754.7" stroke="#000" stroke-width="2.5" stroke-linecap="butt"/>
<text x="628" y="619.5" text-anchor="middle" transform="rotate(-90 628 619.5)">cGMP (fmol/well)</text>
<rect x="709.1" y="720.4" width="28.3" height="26.6" fill="#a1a0a5" stroke="#000" stroke-width="2.2"/>
<rect x="755.4" y="721.1" width="28.3" height="25.9" fill="url(#gB)" stroke="#000" stroke-width="2.2"/>
<rect x="801.5" y="717.4" width="28.3" height="29.6" fill="url(#gF)" stroke="#000" stroke-width="2.2"/>
<rect x="847.6" y="709.1" width="28.3" height="37.9" fill="#f54141" stroke="#000" stroke-width="2.2"/>
<rect x="894" y="719.1" width="28.3" height="27.9" fill="url(#rB)" stroke="#000" stroke-width="2.2"/>
<rect x="940.1" y="703.6" width="28.3" height="43.4" fill="url(#rF)" stroke="#000" stroke-width="2.2"/>
<line x1="723.3" y1="717.8" x2="723.3" y2="721.4" stroke="#000" stroke-width="2.1" stroke-linecap="butt"/>
<line x1="715.8" y1="717.8" x2="730.8" y2="717.8" stroke="#000" stroke-width="2.1" stroke-linecap="butt"/>
<line x1="715.8" y1="721.4" x2="730.8" y2="721.4" stroke="#000" stroke-width="2.1" stroke-linecap="butt"/>
<line x1="769.5" y1="716.4" x2="769.5" y2="723" stroke="#000" stroke-width="2.1" stroke-linecap="butt"/>
<line x1="762" y1="716.4" x2="777" y2="716.4" stroke="#000" stroke-width="2.1" stroke-linecap="butt"/>
<line x1="762" y1="723" x2="777" y2="723" stroke="#000" stroke-width="2.1" stroke-linecap="butt"/>
<line x1="815.6" y1="713" x2="815.6" y2="720.3" stroke="#000" stroke-width="2.1" stroke-linecap="butt"/>
<line x1="808.1" y1="713" x2="823.1" y2="713" stroke="#000" stroke-width="2.1" stroke-linecap="butt"/>
<line x1="808.1" y1="720.3" x2="823.1" y2="720.3" stroke="#000" stroke-width="2.1" stroke-linecap="butt"/>
<line x1="861.8" y1="702.8" x2="861.8" y2="713.2" stroke="#000" stroke-width="2.1" stroke-linecap="butt"/>
<line x1="854.3" y1="702.8" x2="869.3" y2="702.8" stroke="#000" stroke-width="2.1" stroke-linecap="butt"/>
<line x1="854.3" y1="713.2" x2="869.3" y2="713.2" stroke="#000" stroke-width="2.1" stroke-linecap="butt"/>
<line x1="908.1" y1="714.8" x2="908.1" y2="721.2" stroke="#000" stroke-width="2.1" stroke-linecap="butt"/>
<line x1="900.6" y1="714.8" x2="915.6" y2="714.8" stroke="#000" stroke-width="2.1" stroke-linecap="butt"/>
<line x1="900.6" y1="721.2" x2="915.6" y2="721.2" stroke="#000" stroke-width="2.1" stroke-linecap="butt"/>
<line x1="954.3" y1="699.3" x2="954.3" y2="705.5" stroke="#000" stroke-width="2.1" stroke-linecap="butt"/>
<line x1="946.8" y1="699.3" x2="961.8" y2="699.3" stroke="#000" stroke-width="2.1" stroke-linecap="butt"/>
<line x1="946.8" y1="705.5" x2="961.8" y2="705.5" stroke="#000" stroke-width="2.1" stroke-linecap="butt"/>
<circle cx="719.4" cy="719.6" r="2.9"/>
<circle cx="723.3" cy="717" r="2.9"/>
<circle cx="727.5" cy="721.2" r="2.9"/>
<circle cx="768.8" cy="714.1" r="2.9"/>
<circle cx="766.2" cy="721.2" r="2.9"/>
<circle cx="771.1" cy="724.5" r="2.9"/>
<circle cx="815.6" cy="711.5" r="2.9"/>
<circle cx="813" cy="718" r="2.9"/>
<circle cx="816.2" cy="723.5" r="2.9"/>
<circle cx="862.1" cy="695.7" r="2.9"/>
<circle cx="859.8" cy="711.5" r="2.9"/>
<circle cx="863.7" cy="715.7" r="2.9"/>
<circle cx="908.2" cy="713.8" r="2.9"/>
<circle cx="906.6" cy="718" r="2.9"/>
<circle cx="908.2" cy="725.1" r="2.9"/>
<circle cx="954.4" cy="696.1" r="2.9"/>
<circle cx="953.4" cy="701.9" r="2.9"/>
<circle cx="954.4" cy="711.5" r="2.9"/>
<text x="684.3" y="779.4" text-anchor="end">Vehicle</text>
<text x="723.3" y="786.6" text-anchor="middle" style="font-size:30px" class="pm">+</text>
<text x="769.5" y="786.6" text-anchor="middle" style="font-size:30px" class="pm">+</text>
<text x="815.6" y="786.6" text-anchor="middle" style="font-size:30px" class="pm">+</text>
<text x="861.8" y="786.6" text-anchor="middle" style="font-size:30px" class="pm">+</text>
<text x="908.1" y="786.6" text-anchor="middle" style="font-size:30px" class="pm">+</text>
<text x="954.3" y="786.6" text-anchor="middle" style="font-size:30px" class="pm">+</text>
<text x="684.8" y="806.8" text-anchor="end" style="font-size:23.45px">CNP (10 nM)</text>
<text x="723.3" y="812.7" text-anchor="middle" style="font-size:30px" class="pm">-</text>
<text x="769.5" y="814" text-anchor="middle" style="font-size:30px" class="pm">+</text>
<text x="815.6" y="812.7" text-anchor="middle" style="font-size:30px" class="pm">-</text>
<text x="861.8" y="812.7" text-anchor="middle" style="font-size:30px" class="pm">-</text>
<text x="908.1" y="814" text-anchor="middle" style="font-size:30px" class="pm">+</text>
<text x="954.3" y="812.7" text-anchor="middle" style="font-size:30px" class="pm">-</text>
<text x="685.3" y="835" text-anchor="end" style="font-size:23.5px">CNP (100 nM)</text>
<text x="723.3" y="840.9" text-anchor="middle" style="font-size:30px" class="pm">-</text>
<text x="769.5" y="840.9" text-anchor="middle" style="font-size:30px" class="pm">-</text>
<text x="815.6" y="842.2" text-anchor="middle" style="font-size:30px" class="pm">+</text>
<text x="861.8" y="840.9" text-anchor="middle" style="font-size:30px" class="pm">-</text>
<text x="908.1" y="840.9" text-anchor="middle" style="font-size:30px" class="pm">-</text>
<text x="954.3" y="842.2" text-anchor="middle" style="font-size:30px" class="pm">+</text>
<text x="686.3" y="863.3" text-anchor="end" style="font-size:23.25px">Musclin (100 nM)</text>
<text x="723.3" y="869.2" text-anchor="middle" style="font-size:30px" class="pm">-</text>
<text x="769.5" y="869.2" text-anchor="middle" style="font-size:30px" class="pm">-</text>
<text x="815.6" y="869.2" text-anchor="middle" style="font-size:30px" class="pm">-</text>
<text x="861.8" y="870.5" text-anchor="middle" style="font-size:30px" class="pm">+</text>
<text x="908.1" y="870.5" text-anchor="middle" style="font-size:30px" class="pm">+</text>
<text x="954.3" y="870.5" text-anchor="middle" style="font-size:30px" class="pm">+</text>
<line x1="723.3" y1="881" x2="954.3" y2="881" stroke="#000" stroke-width="2.2" stroke-linecap="butt"/>
<text x="839.5" y="911.8" text-anchor="middle">NPR2-KO</text>
<text x="993.3" y="488.3" font-weight="bold" style="font-size:30.5px">g</text>
<line x1="1196.9" y1="496.1" x2="1196.9" y2="747.6" stroke="#000" stroke-width="2.5" stroke-linecap="butt"/>
<line x1="1189.2" y1="497.3" x2="1196.9" y2="497.3" stroke="#000" stroke-width="2.5" stroke-linecap="butt"/>
<text x="1186" y="505.9" text-anchor="end">0.8</text>
<line x1="1189.2" y1="559.6" x2="1196.9" y2="559.6" stroke="#000" stroke-width="2.5" stroke-linecap="butt"/>
<text x="1186" y="568.2" text-anchor="end">0.6</text>
<line x1="1189.2" y1="621.9" x2="1196.9" y2="621.9" stroke="#000" stroke-width="2.5" stroke-linecap="butt"/>
<text x="1186" y="630.5" text-anchor="end">0.4</text>
<line x1="1189.2" y1="684.1" x2="1196.9" y2="684.1" stroke="#000" stroke-width="2.5" stroke-linecap="butt"/>
<text x="1186" y="692.7" text-anchor="end">0.2</text>
<line x1="1189.2" y1="746.4" x2="1196.9" y2="746.4" stroke="#000" stroke-width="2.5" stroke-linecap="butt"/>
<text x="1186" y="755" text-anchor="end">0.0</text>
<line x1="1189.2" y1="746.4" x2="1490" y2="746.4" stroke="#000" stroke-width="2.5" stroke-linecap="butt"/>
<line x1="1227.5" y1="746.4" x2="1227.5" y2="754.1" stroke="#000" stroke-width="2.5" stroke-linecap="butt"/>
<line x1="1273.6" y1="746.4" x2="1273.6" y2="754.1" stroke="#000" stroke-width="2.5" stroke-linecap="butt"/>
<line x1="1319.5" y1="746.4" x2="1319.5" y2="754.1" stroke="#000" stroke-width="2.5" stroke-linecap="butt"/>
<line x1="1365.6" y1="746.4" x2="1365.6" y2="754.1" stroke="#000" stroke-width="2.5" stroke-linecap="butt"/>
<line x1="1411.8" y1="746.4" x2="1411.8" y2="754.1" stroke="#000" stroke-width="2.5" stroke-linecap="butt"/>
<line x1="1457.9" y1="746.4" x2="1457.9" y2="754.1" stroke="#000" stroke-width="2.5" stroke-linecap="butt"/>
<text x="1140" y="618.5" text-anchor="middle" transform="rotate(-90 1140 618.5)">cAMP (pmol/ml/mg)</text>
<rect x="1213.8" y="676.1" width="27.4" height="70.3" fill="#a1a0a5" stroke="#000" stroke-width="2.2"/>
<rect x="1259.9" y="682.6" width="27.4" height="63.8" fill="url(#gB)" stroke="#000" stroke-width="2.2"/>
<rect x="1305.8" y="635.8" width="27.4" height="110.6" fill="url(#gF)" stroke="#000" stroke-width="2.2"/>
<rect x="1351.9" y="646.1" width="27.4" height="100.3" fill="#f54141" stroke="#000" stroke-width="2.2"/>
<rect x="1398.1" y="630.3" width="27.4" height="116.1" fill="url(#rB)" stroke="#000" stroke-width="2.2"/>
<rect x="1444.2" y="559" width="27.4" height="187.4" fill="url(#rF)" stroke="#000" stroke-width="2.2"/>
<line x1="1227.5" y1="669.6" x2="1227.5" y2="680.9" stroke="#000" stroke-width="2.1" stroke-linecap="butt"/>
<line x1="1220" y1="669.6" x2="1235" y2="669.6" stroke="#000" stroke-width="2.1" stroke-linecap="butt"/>
<line x1="1220" y1="680.9" x2="1235" y2="680.9" stroke="#000" stroke-width="2.1" stroke-linecap="butt"/>
<line x1="1273.6" y1="679.3" x2="1273.6" y2="684.8" stroke="#000" stroke-width="2.1" stroke-linecap="butt"/>
<line x1="1266.1" y1="679.3" x2="1281.1" y2="679.3" stroke="#000" stroke-width="2.1" stroke-linecap="butt"/>
<line x1="1266.1" y1="684.8" x2="1281.1" y2="684.8" stroke="#000" stroke-width="2.1" stroke-linecap="butt"/>
<line x1="1319.5" y1="623.8" x2="1319.5" y2="646" stroke="#000" stroke-width="2.1" stroke-linecap="butt"/>
<line x1="1312" y1="623.8" x2="1327" y2="623.8" stroke="#000" stroke-width="2.1" stroke-linecap="butt"/>
<line x1="1312" y1="646" x2="1327" y2="646" stroke="#000" stroke-width="2.1" stroke-linecap="butt"/>
<line x1="1365.6" y1="641.5" x2="1365.6" y2="648.6" stroke="#000" stroke-width="2.1" stroke-linecap="butt"/>
<line x1="1358.1" y1="641.5" x2="1373.1" y2="641.5" stroke="#000" stroke-width="2.1" stroke-linecap="butt"/>
<line x1="1358.1" y1="648.6" x2="1373.1" y2="648.6" stroke="#000" stroke-width="2.1" stroke-linecap="butt"/>
<line x1="1411.8" y1="619.6" x2="1411.8" y2="638.3" stroke="#000" stroke-width="2.1" stroke-linecap="butt"/>
<line x1="1404.3" y1="619.6" x2="1419.3" y2="619.6" stroke="#000" stroke-width="2.1" stroke-linecap="butt"/>
<line x1="1404.3" y1="638.3" x2="1419.3" y2="638.3" stroke="#000" stroke-width="2.1" stroke-linecap="butt"/>
<line x1="1457.9" y1="549.2" x2="1457.9" y2="566.3" stroke="#000" stroke-width="2.1" stroke-linecap="butt"/>
<line x1="1450.4" y1="549.2" x2="1465.4" y2="549.2" stroke="#000" stroke-width="2.1" stroke-linecap="butt"/>
<line x1="1450.4" y1="566.3" x2="1465.4" y2="566.3" stroke="#000" stroke-width="2.1" stroke-linecap="butt"/>
<circle cx="1227.5" cy="665.4" r="2.9"/>
<circle cx="1227.5" cy="677" r="2.9"/>
<circle cx="1227.5" cy="682.5" r="2.9"/>
<circle cx="1273.7" cy="677.7" r="2.9"/>
<circle cx="1272" cy="682.5" r="2.9"/>
<circle cx="1275.3" cy="684.1" r="2.9"/>
<circle cx="1319.5" cy="614.1" r="2.9"/>
<circle cx="1317.2" cy="642.2" r="2.9"/>
<circle cx="1320.4" cy="644.7" r="2.9"/>
<circle cx="1365.6" cy="640.5" r="2.9"/>
<circle cx="1364" cy="647.6" r="2.9"/>
<circle cx="1366.6" cy="649.6" r="2.9"/>
<circle cx="1411.8" cy="612.5" r="2.9"/>
<circle cx="1411.8" cy="631.5" r="2.9"/>
<circle cx="1411.8" cy="644.7" r="2.9"/>
<circle cx="1457.9" cy="541.5" r="2.9"/>
<circle cx="1457.9" cy="561.5" r="2.9"/>
<circle cx="1457.9" cy="567.3" r="2.9"/>
<text x="1188.3" y="779.3" text-anchor="end">Vehicle</text>
<text x="1227.5" y="785.3" text-anchor="middle" style="font-size:30px" class="pm">+</text>
<text x="1273.6" y="785.3" text-anchor="middle" style="font-size:30px" class="pm">+</text>
<text x="1319.5" y="785.3" text-anchor="middle" style="font-size:30px" class="pm">+</text>
<text x="1365.6" y="785.3" text-anchor="middle" style="font-size:30px" class="pm">+</text>
<text x="1411.8" y="785.3" text-anchor="middle" style="font-size:30px" class="pm">+</text>
<text x="1457.9" y="785.3" text-anchor="middle" style="font-size:30px" class="pm">+</text>
<text x="1188.8" y="806.4" text-anchor="end" style="font-size:23.45px">CNP (10 nM)</text>
<text x="1227.5" y="811.1" text-anchor="middle" style="font-size:30px" class="pm">-</text>
<text x="1273.6" y="812.4" text-anchor="middle" style="font-size:30px" class="pm">+</text>
<text x="1319.5" y="811.1" text-anchor="middle" style="font-size:30px" class="pm">-</text>
<text x="1365.6" y="811.1" text-anchor="middle" style="font-size:30px" class="pm">-</text>
<text x="1411.8" y="812.4" text-anchor="middle" style="font-size:30px" class="pm">+</text>
<text x="1457.9" y="811.1" text-anchor="middle" style="font-size:30px" class="pm">-</text>
<text x="1189.3" y="834.8" text-anchor="end" style="font-size:23.5px">CNP (100 nM)</text>
<text x="1227.5" y="839.5" text-anchor="middle" style="font-size:30px" class="pm">-</text>
<text x="1273.6" y="839.5" text-anchor="middle" style="font-size:30px" class="pm">-</text>
<text x="1319.5" y="840.8" text-anchor="middle" style="font-size:30px" class="pm">+</text>
<text x="1365.6" y="839.5" text-anchor="middle" style="font-size:30px" class="pm">-</text>
<text x="1411.8" y="839.5" text-anchor="middle" style="font-size:30px" class="pm">-</text>
<text x="1457.9" y="840.8" text-anchor="middle" style="font-size:30px" class="pm">+</text>
<text x="1189.3" y="862.7" text-anchor="end" style="font-size:23.05px">Musclin (10 nM)</text>
<text x="1227.5" y="867.4" text-anchor="middle" style="font-size:30px" class="pm">-</text>
<text x="1273.6" y="867.4" text-anchor="middle" style="font-size:30px" class="pm">-</text>
<text x="1319.5" y="867.4" text-anchor="middle" style="font-size:30px" class="pm">-</text>
<text x="1365.6" y="868.7" text-anchor="middle" style="font-size:30px" class="pm">+</text>
<text x="1411.8" y="868.7" text-anchor="middle" style="font-size:30px" class="pm">+</text>
<text x="1457.9" y="868.7" text-anchor="middle" style="font-size:30px" class="pm">+</text>
<line x1="1228.5" y1="878.8" x2="1459" y2="878.8" stroke="#000" stroke-width="2.2" stroke-linecap="butt"/>
<text x="1344.6" y="909.5" text-anchor="middle">WT</text>
<polyline fill="none" stroke="#000" stroke-width="2.3" points="1273.6,600.4 1273.6,594.4 1412.3,594.4 1412.3,600.4"/>
<text x="1344.3" y="594.6" text-anchor="middle" style="font-size:25.5px" letter-spacing="2.6" class="st">*</text>
<text x="1495.3" y="496.5" font-weight="bold" style="font-size:30.5px">h</text>
<line x1="1680.7" y1="495.1" x2="1680.7" y2="747.4" stroke="#000" stroke-width="2.5" stroke-linecap="butt"/>
<line x1="1673" y1="496.3" x2="1680.7" y2="496.3" stroke="#000" stroke-width="2.5" stroke-linecap="butt"/>
<text x="1670" y="503.8" text-anchor="end">0.8</text>
<line x1="1673" y1="558.8" x2="1680.7" y2="558.8" stroke="#000" stroke-width="2.5" stroke-linecap="butt"/>
<text x="1670" y="566.3" text-anchor="end">0.6</text>
<line x1="1673" y1="621.2" x2="1680.7" y2="621.2" stroke="#000" stroke-width="2.5" stroke-linecap="butt"/>
<text x="1670" y="628.7" text-anchor="end">0.4</text>
<line x1="1673" y1="683.7" x2="1680.7" y2="683.7" stroke="#000" stroke-width="2.5" stroke-linecap="butt"/>
<text x="1670" y="691.2" text-anchor="end">0.2</text>
<line x1="1673" y1="746.1" x2="1680.7" y2="746.1" stroke="#000" stroke-width="2.5" stroke-linecap="butt"/>
<text x="1670" y="753.6" text-anchor="end">0.0</text>
<line x1="1673" y1="746.1" x2="1978" y2="746.1" stroke="#000" stroke-width="2.5" stroke-linecap="butt"/>
<line x1="1711" y1="746.1" x2="1711" y2="753.8" stroke="#000" stroke-width="2.5" stroke-linecap="butt"/>
<line x1="1757.4" y1="746.1" x2="1757.4" y2="753.8" stroke="#000" stroke-width="2.5" stroke-linecap="butt"/>
<line x1="1803.7" y1="746.1" x2="1803.7" y2="753.8" stroke="#000" stroke-width="2.5" stroke-linecap="butt"/>
<line x1="1850.1" y1="746.1" x2="1850.1" y2="753.8" stroke="#000" stroke-width="2.5" stroke-linecap="butt"/>
<line x1="1896.3" y1="746.1" x2="1896.3" y2="753.8" stroke="#000" stroke-width="2.5" stroke-linecap="butt"/>
<line x1="1942.7" y1="746.1" x2="1942.7" y2="753.8" stroke="#000" stroke-width="2.5" stroke-linecap="butt"/>
<text x="1624" y="618" text-anchor="middle" transform="rotate(-90 1624 618)">cAMP (pmol/ml/mg)</text>
<rect x="1697.4" y="693.3" width="27.2" height="52.8" fill="#a1a0a5" stroke="#000" stroke-width="2.2"/>
<rect x="1743.8" y="661" width="27.2" height="85.1" fill="url(#gB)" stroke="#000" stroke-width="2.2"/>
<rect x="1790.1" y="657.8" width="27.2" height="88.3" fill="url(#gF)" stroke="#000" stroke-width="2.2"/>
<rect x="1836.5" y="660" width="27.2" height="86.1" fill="#f54141" stroke="#000" stroke-width="2.2"/>
<rect x="1882.7" y="659.4" width="27.2" height="86.7" fill="url(#rB)" stroke="#000" stroke-width="2.2"/>
<rect x="1929.1" y="648.7" width="27.2" height="97.4" fill="url(#rF)" stroke="#000" stroke-width="2.2"/>
<line x1="1711" y1="680.2" x2="1711" y2="704.1" stroke="#000" stroke-width="2.1" stroke-linecap="butt"/>
<line x1="1703.5" y1="680.2" x2="1718.5" y2="680.2" stroke="#000" stroke-width="2.1" stroke-linecap="butt"/>
<line x1="1703.5" y1="704.1" x2="1718.5" y2="704.1" stroke="#000" stroke-width="2.1" stroke-linecap="butt"/>
<line x1="1757.4" y1="649.6" x2="1757.4" y2="670.6" stroke="#000" stroke-width="2.1" stroke-linecap="butt"/>
<line x1="1749.9" y1="649.6" x2="1764.9" y2="649.6" stroke="#000" stroke-width="2.1" stroke-linecap="butt"/>
<line x1="1749.9" y1="670.6" x2="1764.9" y2="670.6" stroke="#000" stroke-width="2.1" stroke-linecap="butt"/>
<line x1="1803.7" y1="650.2" x2="1803.7" y2="664.1" stroke="#000" stroke-width="2.1" stroke-linecap="butt"/>
<line x1="1796.2" y1="650.2" x2="1811.2" y2="650.2" stroke="#000" stroke-width="2.1" stroke-linecap="butt"/>
<line x1="1796.2" y1="664.1" x2="1811.2" y2="664.1" stroke="#000" stroke-width="2.1" stroke-linecap="butt"/>
<line x1="1850.1" y1="644.7" x2="1850.1" y2="674.4" stroke="#000" stroke-width="2.1" stroke-linecap="butt"/>
<line x1="1842.6" y1="644.7" x2="1857.6" y2="644.7" stroke="#000" stroke-width="2.1" stroke-linecap="butt"/>
<line x1="1842.6" y1="674.4" x2="1857.6" y2="674.4" stroke="#000" stroke-width="2.1" stroke-linecap="butt"/>
<line x1="1896.3" y1="651.8" x2="1896.3" y2="664.8" stroke="#000" stroke-width="2.1" stroke-linecap="butt"/>
<line x1="1888.8" y1="651.8" x2="1903.8" y2="651.8" stroke="#000" stroke-width="2.1" stroke-linecap="butt"/>
<line x1="1888.8" y1="664.8" x2="1903.8" y2="664.8" stroke="#000" stroke-width="2.1" stroke-linecap="butt"/>
<line x1="1942.7" y1="637.3" x2="1942.7" y2="657.7" stroke="#000" stroke-width="2.1" stroke-linecap="butt"/>
<line x1="1935.2" y1="637.3" x2="1950.2" y2="637.3" stroke="#000" stroke-width="2.1" stroke-linecap="butt"/>
<line x1="1935.2" y1="657.7" x2="1950.2" y2="657.7" stroke="#000" stroke-width="2.1" stroke-linecap="butt"/>
<circle cx="1711" cy="674.4" r="2.9"/>
<circle cx="1711" cy="689" r="2.9"/>
<circle cx="1711" cy="713.8" r="2.9"/>
<circle cx="1757.5" cy="642.8" r="2.9"/>
<circle cx="1757.5" cy="658.3" r="2.9"/>
<circle cx="1757.5" cy="679.3" r="2.9"/>
<circle cx="1803.7" cy="642.8" r="2.9"/>
<circle cx="1802.7" cy="665.4" r="2.9"/>
<circle cx="1805.3" cy="664.1" r="2.9"/>
<circle cx="1850.1" cy="629.9" r="2.9"/>
<circle cx="1849.5" cy="673.8" r="2.9"/>
<circle cx="1851.7" cy="674.4" r="2.9"/>
<circle cx="1896.3" cy="648" r="2.9"/>
<circle cx="1896.3" cy="658.3" r="2.9"/>
<circle cx="1896.3" cy="668" r="2.9"/>
<circle cx="1942.7" cy="633.1" r="2.9"/>
<circle cx="1944" cy="639.6" r="2.9"/>
<circle cx="1942.7" cy="668" r="2.9"/>
<text x="1671.4" y="778.8" text-anchor="end">Vehicle</text>
<text x="1711" y="785.8" text-anchor="middle" style="font-size:30px" class="pm">+</text>
<text x="1757.4" y="785.8" text-anchor="middle" style="font-size:30px" class="pm">+</text>
<text x="1803.7" y="785.8" text-anchor="middle" style="font-size:30px" class="pm">+</text>
<text x="1850.1" y="785.8" text-anchor="middle" style="font-size:30px" class="pm">+</text>
<text x="1896.3" y="785.8" text-anchor="middle" style="font-size:30px" class="pm">+</text>
<text x="1942.7" y="785.8" text-anchor="middle" style="font-size:30px" class="pm">+</text>
<text x="1671.9" y="806.2" text-anchor="end" style="font-size:23.45px">CNP (10 nM)</text>
<text x="1711" y="811.9" text-anchor="middle" style="font-size:30px" class="pm">-</text>
<text x="1757.4" y="813.2" text-anchor="middle" style="font-size:30px" class="pm">+</text>
<text x="1803.7" y="811.9" text-anchor="middle" style="font-size:30px" class="pm">-</text>
<text x="1850.1" y="811.9" text-anchor="middle" style="font-size:30px" class="pm">-</text>
<text x="1896.3" y="813.2" text-anchor="middle" style="font-size:30px" class="pm">+</text>
<text x="1942.7" y="811.9" text-anchor="middle" style="font-size:30px" class="pm">-</text>
<text x="1672.4" y="835" text-anchor="end" style="font-size:23.5px">CNP (100 nM)</text>
<text x="1711" y="840.7" text-anchor="middle" style="font-size:30px" class="pm">-</text>
<text x="1757.4" y="840.7" text-anchor="middle" style="font-size:30px" class="pm">-</text>
<text x="1803.7" y="842" text-anchor="middle" style="font-size:30px" class="pm">+</text>
<text x="1850.1" y="840.7" text-anchor="middle" style="font-size:30px" class="pm">-</text>
<text x="1896.3" y="840.7" text-anchor="middle" style="font-size:30px" class="pm">-</text>
<text x="1942.7" y="842" text-anchor="middle" style="font-size:30px" class="pm">+</text>
<text x="1672.4" y="862.3" text-anchor="end" style="font-size:23.05px">Musclin (10 nM)</text>
<text x="1711" y="868" text-anchor="middle" style="font-size:30px" class="pm">-</text>
<text x="1757.4" y="868" text-anchor="middle" style="font-size:30px" class="pm">-</text>
<text x="1803.7" y="868" text-anchor="middle" style="font-size:30px" class="pm">-</text>
<text x="1850.1" y="869.3" text-anchor="middle" style="font-size:30px" class="pm">+</text>
<text x="1896.3" y="869.3" text-anchor="middle" style="font-size:30px" class="pm">+</text>
<text x="1942.7" y="869.3" text-anchor="middle" style="font-size:30px" class="pm">+</text>
<line x1="1712.3" y1="881" x2="1944" y2="881" stroke="#000" stroke-width="2.2" stroke-linecap="butt"/>
<text x="1828.5" y="911.8" text-anchor="middle">NPR2-KO</text>
<text x="2.9" y="979.1" font-weight="bold" style="font-size:30.5px">i</text>
<line x1="114.5" y1="1094.3" x2="114.5" y2="1346.2" stroke="#000" stroke-width="2.5" stroke-linecap="butt"/>
<line x1="106.8" y1="1095.6" x2="114.5" y2="1095.6" stroke="#000" stroke-width="2.5" stroke-linecap="butt"/>
<text x="104.5" y="1104.2" text-anchor="end">1.8</text>
<line x1="106.8" y1="1145.5" x2="114.5" y2="1145.5" stroke="#000" stroke-width="2.5" stroke-linecap="butt"/>
<text x="104.5" y="1154.1" text-anchor="end">1.6</text>
<line x1="106.8" y1="1195.3" x2="114.5" y2="1195.3" stroke="#000" stroke-width="2.5" stroke-linecap="butt"/>
<text x="104.5" y="1203.9" text-anchor="end">1.4</text>
<line x1="106.8" y1="1245.2" x2="114.5" y2="1245.2" stroke="#000" stroke-width="2.5" stroke-linecap="butt"/>
<text x="104.5" y="1253.8" text-anchor="end">1.2</text>
<line x1="106.8" y1="1295" x2="114.5" y2="1295" stroke="#000" stroke-width="2.5" stroke-linecap="butt"/>
<text x="104.5" y="1303.6" text-anchor="end">1.0</text>
<line x1="106.8" y1="1344.9" x2="114.5" y2="1344.9" stroke="#000" stroke-width="2.5" stroke-linecap="butt"/>
<text x="104.5" y="1353.5" text-anchor="end">0.8</text>
<line x1="106.8" y1="1344.9" x2="489.9" y2="1344.9" stroke="#000" stroke-width="2.5" stroke-linecap="butt"/>
<line x1="114.5" y1="1344.9" x2="114.5" y2="1352.6" stroke="#000" stroke-width="2.5" stroke-linecap="butt"/>
<text x="114.5" y="1377" text-anchor="middle">0</text>
<line x1="189.3" y1="1344.9" x2="189.3" y2="1352.6" stroke="#000" stroke-width="2.5" stroke-linecap="butt"/>
<text x="189.3" y="1377" text-anchor="middle">100</text>
<line x1="264.2" y1="1344.9" x2="264.2" y2="1352.6" stroke="#000" stroke-width="2.5" stroke-linecap="butt"/>
<text x="264.2" y="1377" text-anchor="middle">200</text>
<line x1="339" y1="1344.9" x2="339" y2="1352.6" stroke="#000" stroke-width="2.5" stroke-linecap="butt"/>
<text x="339" y="1377" text-anchor="middle">300</text>
<line x1="413.9" y1="1344.9" x2="413.9" y2="1352.6" stroke="#000" stroke-width="2.5" stroke-linecap="butt"/>
<text x="413.9" y="1377" text-anchor="middle">400</text>
<line x1="488.7" y1="1344.9" x2="488.7" y2="1352.6" stroke="#000" stroke-width="2.5" stroke-linecap="butt"/>
<text x="488.7" y="1377" text-anchor="middle">500</text>
<text x="301.5" y="1413" text-anchor="middle">Time (sec)</text>
<text x="56.5" y="1216.8" text-anchor="middle" transform="rotate(-90 56.5 1216.8)" style="font-size:23.85px">FRET ratio CFP/YFP (normalized)</text>
<line x1="122.3" y1="1016.8" x2="461.2" y2="1016.8" stroke="#000" stroke-width="2.3" stroke-linecap="butt"/>
<text x="292" y="1009.5" text-anchor="middle" style="font-size:23.5px">PDE3 inhibitor (10 µM)</text>
<text x="161.5" y="1046.2" style="font-size:23.9px">Iso (100 nM)</text>
<text x="256.5" y="1075" style="font-size:23.4px">CNP (100 nM)</text>
<text x="332.8" y="1102.4" style="font-size:23.3px">Musclin (100 nM)</text>
<line x1="164.3" y1="1056.5" x2="164.3" y2="1272.8" stroke="#000" stroke-width="2.5" stroke-linecap="butt"/>
<polygon points="159.6,1271.8 169,1271.8 164.3,1282.8" fill="#000"/>
<line x1="263.6" y1="1088.3" x2="263.6" y2="1155.2" stroke="#000" stroke-width="2.5" stroke-linecap="butt"/>
<polygon points="258.9,1154.2 268.3,1154.2 263.6,1165.2" fill="#000"/>
<line x1="338.4" y1="1109" x2="338.4" y2="1132.2" stroke="#000" stroke-width="2.5" stroke-linecap="butt"/>
<polygon points="333.7,1131.2 343.1,1131.2 338.4,1142.2" fill="#000"/>
<polyline fill="none" stroke="#000" stroke-width="2.2" stroke-linejoin="miter" stroke-miterlimit="3" points="114.6,1294.7 121.5,1296.1 125.8,1293.5 129.2,1293.8 133.5,1295.5 140.4,1296.4 144.7,1295.2 148.2,1292.6 151.6,1296.1 155,1293.5 159.3,1296.1 162.8,1290.9 166.2,1289.2 170.5,1290 174,1282.3 177.4,1270.3 180.8,1251.3 184.3,1223.8 187.7,1206.6 190.3,1196.3 192.9,1184.3 196.3,1174 200.6,1166.7 204.9,1163.6 211.8,1162.3 215.6,1170.5 219.5,1167.1 223,1168.8 226.7,1177 230.2,1172.2 234.1,1174.3 237.6,1172.6 241.9,1176.5 246.2,1174.8 252.2,1174.5 256.8,1177.7 260.8,1177.4 264.2,1174 266.8,1167.9 271.1,1169.7 275.1,1159.8 278.9,1160.5 282.3,1158.5 286.6,1160.5 290,1155.9 294.3,1150.7 297.8,1157.6 302.1,1152.5 306.4,1151.1 313.3,1149.9 316.3,1151.2 319.8,1146.8 323.6,1148.2 328.7,1146.4 332.2,1146.4 335.6,1149.5 339.9,1145.6 345.1,1140.4 349.4,1141.3 353.7,1136.5 358,1134.4 361.4,1132.7 364.8,1135.8 368.3,1131.8 372.6,1129.2 376,1131.3 382,1127.9 387.2,1127.2 391,1133.5 394.4,1124.9 398.4,1131.8 401.8,1128.4 406.1,1129.6 411.3,1128.4 417.3,1124.4"/>
<text x="556.5" y="977.8" font-weight="bold" style="font-size:30.5px">j</text>
<line x1="700" y1="1095.2" x2="700" y2="1343.2" stroke="#000" stroke-width="2.5" stroke-linecap="butt"/>
<line x1="692.3" y1="1096.5" x2="700" y2="1096.5" stroke="#000" stroke-width="2.5" stroke-linecap="butt"/>
<text x="689.5" y="1105.1" text-anchor="end">20</text>
<line x1="692.3" y1="1157.9" x2="700" y2="1157.9" stroke="#000" stroke-width="2.5" stroke-linecap="butt"/>
<text x="689.5" y="1166.5" text-anchor="end">15</text>
<line x1="692.3" y1="1219.3" x2="700" y2="1219.3" stroke="#000" stroke-width="2.5" stroke-linecap="butt"/>
<text x="689.5" y="1227.9" text-anchor="end">10</text>
<line x1="692.3" y1="1280.6" x2="700" y2="1280.6" stroke="#000" stroke-width="2.5" stroke-linecap="butt"/>
<text x="689.5" y="1289.2" text-anchor="end">5</text>
<line x1="692.3" y1="1342" x2="700" y2="1342" stroke="#000" stroke-width="2.5" stroke-linecap="butt"/>
<text x="689.5" y="1350.6" text-anchor="end">0</text>
<line x1="692.3" y1="1342" x2="798.5" y2="1342" stroke="#000" stroke-width="2.5" stroke-linecap="butt"/>
<line x1="727.7" y1="1342" x2="727.7" y2="1349.7" stroke="#000" stroke-width="2.5" stroke-linecap="butt"/>
<line x1="769.8" y1="1342" x2="769.8" y2="1349.7" stroke="#000" stroke-width="2.5" stroke-linecap="butt"/>
<text x="650" y="1216" text-anchor="middle" transform="rotate(-90 650 1216)">cAMP response (%max)</text>
<rect x="715.3" y="1290.9" width="24.8" height="51.1" fill="url(#dJ)" stroke="#000" stroke-width="2.2"/>
<rect x="757.4" y="1302.4" width="24.8" height="39.6" fill="url(#rJ)" stroke="#000" stroke-width="2.2"/>
<line x1="727.7" y1="1272.5" x2="727.7" y2="1307.1" stroke="#000" stroke-width="2.1" stroke-linecap="butt"/>
<line x1="721" y1="1272.5" x2="734.5" y2="1272.5" stroke="#000" stroke-width="2.1" stroke-linecap="butt"/>
<line x1="721" y1="1307.1" x2="734.5" y2="1307.1" stroke="#000" stroke-width="2.1" stroke-linecap="butt"/>
<line x1="769.8" y1="1295.9" x2="769.8" y2="1307.8" stroke="#000" stroke-width="2.1" stroke-linecap="butt"/>
<line x1="763" y1="1295.9" x2="776.5" y2="1295.9" stroke="#000" stroke-width="2.1" stroke-linecap="butt"/>
<line x1="763" y1="1307.8" x2="776.5" y2="1307.8" stroke="#000" stroke-width="2.1" stroke-linecap="butt"/>
<circle cx="727.6" cy="1215.4" r="2.9"/>
<circle cx="727.6" cy="1253.2" r="2.9"/>
<circle cx="727.6" cy="1271.4" r="2.9"/>
<circle cx="727.6" cy="1278.9" r="2.9"/>
<circle cx="727.6" cy="1286.4" r="2.9"/>
<circle cx="727.6" cy="1298.6" r="2.9"/>
<circle cx="769.8" cy="1273.9" r="2.9"/>
<circle cx="769.8" cy="1286.6" r="2.9"/>
<circle cx="769.8" cy="1294.5" r="2.9"/>
<circle cx="769.8" cy="1299.3" r="2.9"/>
<circle cx="768.8" cy="1314.9" r="2.9"/>
<circle cx="771.2" cy="1315.3" r="2.9"/>
<circle cx="769.8" cy="1322.4" r="2.9"/>
<line x1="729.2" y1="1193" x2="767.4" y2="1193" stroke="#000" stroke-width="2" stroke-linecap="butt"/>
<text x="748" y="1187.5" text-anchor="middle">n.s.</text>
<text x="691" y="1374" text-anchor="end" style="font-size:23.5px">PDE3 inhibitor</text>
<text x="728.2" y="1377.3" text-anchor="middle" style="font-size:31.5px" class="pm">+</text>
<text x="770.3" y="1377.3" text-anchor="middle" style="font-size:31.5px" class="pm">+</text>
<text x="691" y="1403.3" text-anchor="end" style="font-size:23.5px">Isoprenaline</text>
<text x="728.2" y="1406.6" text-anchor="middle" style="font-size:31.5px" class="pm">+</text>
<text x="770.3" y="1406.6" text-anchor="middle" style="font-size:31.5px" class="pm">+</text>
<text x="691" y="1432.5" text-anchor="end" style="font-size:23.5px">CNP</text>
<text x="728.2" y="1435.8" text-anchor="middle" style="font-size:31.5px" class="pm">+</text>
<text x="770.3" y="1435.8" text-anchor="middle" style="font-size:31.5px" class="pm">+</text>
<text x="691" y="1461.8" text-anchor="end" style="font-size:23.5px">Musclin</text>
<text transform="translate(728.2 1463.8) scale(1.33 1)" text-anchor="middle" class="pm" style="font-size:31.5px">-</text>
<text x="770.3" y="1465.1" text-anchor="middle" style="font-size:31.5px" class="pm">+</text>
<text x="843.5" y="982.8" font-weight="bold" style="font-size:30.5px">k</text>
<line x1="960.6" y1="1095" x2="960.6" y2="1346.5" stroke="#000" stroke-width="2.5" stroke-linecap="butt"/>
<line x1="952.9" y1="1096.3" x2="960.6" y2="1096.3" stroke="#000" stroke-width="2.5" stroke-linecap="butt"/>
<text x="950.5" y="1104.9" text-anchor="end">2.0</text>
<line x1="952.9" y1="1146.1" x2="960.6" y2="1146.1" stroke="#000" stroke-width="2.5" stroke-linecap="butt"/>
<text x="950.5" y="1154.7" text-anchor="end">1.9</text>
<line x1="952.9" y1="1195.9" x2="960.6" y2="1195.9" stroke="#000" stroke-width="2.5" stroke-linecap="butt"/>
<text x="950.5" y="1204.5" text-anchor="end">1.8</text>
<line x1="952.9" y1="1245.7" x2="960.6" y2="1245.7" stroke="#000" stroke-width="2.5" stroke-linecap="butt"/>
<text x="950.5" y="1254.3" text-anchor="end">1.7</text>
<line x1="952.9" y1="1295.5" x2="960.6" y2="1295.5" stroke="#000" stroke-width="2.5" stroke-linecap="butt"/>
<text x="950.5" y="1304.1" text-anchor="end">1.6</text>
<line x1="952.9" y1="1345.3" x2="960.6" y2="1345.3" stroke="#000" stroke-width="2.5" stroke-linecap="butt"/>
<text x="950.5" y="1353.9" text-anchor="end">1.5</text>
<line x1="952.9" y1="1345.3" x2="1335.7" y2="1345.3" stroke="#000" stroke-width="2.5" stroke-linecap="butt"/>
<line x1="1020.9" y1="1345.3" x2="1020.9" y2="1353" stroke="#000" stroke-width="2.5" stroke-linecap="butt"/>
<text x="1020.9" y="1378.8" text-anchor="middle">50</text>
<line x1="1125.4" y1="1345.3" x2="1125.4" y2="1353" stroke="#000" stroke-width="2.5" stroke-linecap="butt"/>
<text x="1125.4" y="1378.8" text-anchor="middle">100</text>
<line x1="1229.9" y1="1345.3" x2="1229.9" y2="1353" stroke="#000" stroke-width="2.5" stroke-linecap="butt"/>
<text x="1229.9" y="1378.8" text-anchor="middle">150</text>
<line x1="1334.4" y1="1345.3" x2="1334.4" y2="1353" stroke="#000" stroke-width="2.5" stroke-linecap="butt"/>
<text x="1334.4" y="1378.8" text-anchor="middle">200</text>
<text x="1147.8" y="1411.5" text-anchor="middle">Time (sec)</text>
<text x="898" y="1217.5" text-anchor="middle" transform="rotate(-90 898 1217.5)">Sarcomere length (µm)</text>
<text x="967.7" y="1063.4" style="font-size:23.8px">Vehicle</text>
<line x1="964" y1="1066.4" x2="1333" y2="1066.4" stroke="#000" stroke-width="1.5" stroke-linecap="butt"/>
<text x="1021.6" y="1092.8" style="font-size:23.5px">CNP 100nM</text>
<line x1="1018" y1="1094.7" x2="1332.5" y2="1094.7" stroke="#000" stroke-width="1.5" stroke-linecap="butt"/>
<text x="1332.8" y="1121" text-anchor="end" style="font-size:23.5px">PDE3 inhibitor 1µM</text>
<line x1="1126.2" y1="1124.2" x2="1333" y2="1124.2" stroke="#000" stroke-width="1.5" stroke-linecap="butt"/>
<text x="1333" y="1151.3" text-anchor="end" style="font-size:23.1px">Musclin 10nM</text>
<line x1="1213" y1="1153.4" x2="1333" y2="1153.4" stroke="#000" stroke-width="1.5" stroke-linecap="butt"/>
<polygon fill="#000" points="960.6,1165 962.1,1165.4 963.6,1166 965.1,1165.9 966.6,1166.2 968.1,1166.6 969.6,1166.5 971.1,1167.2 972.6,1167.6 974.1,1168.1 975.6,1167.5 977.1,1167.7 978.6,1167.6 980.1,1168.3 981.6,1168.3 983.1,1167.6 984.6,1168.6 986.1,1168.3 987.6,1167.8 989.1,1167.5 990.6,1166.8 992.1,1166.5 993.6,1166.7 995.1,1166.1 996.6,1166 998.1,1165.9 999.6,1165.6 1001.1,1165.9 1002.6,1165.8 1004.1,1166.1 1005.6,1165.7 1007.1,1165.7 1008.6,1165.4 1010.1,1165.5 1011.6,1165.2 1013.1,1164.9 1014.6,1165.3 1016.1,1164.9 1017.6,1164.4 1019.1,1164.1 1020.6,1163.7 1022.1,1163.7 1023.6,1163.8 1025.1,1163.7 1026.6,1164.4 1028.1,1164.1 1029.6,1164.7 1031.1,1164.3 1032.6,1164.9 1034.1,1164.4 1035.6,1163 1037.1,1162.6 1038.6,1162.7 1040.1,1161.6 1041.6,1161.6 1043.1,1161 1044.6,1160.7 1046.1,1161.3 1047.6,1161.6 1049.1,1161.1 1050.6,1161.1 1052.1,1161.6 1053.6,1162.6 1055.1,1162.7 1056.6,1162.4 1058.1,1162.7 1059.6,1162.5 1061.1,1162.4 1062.6,1163.1 1064.1,1162.4 1065.6,1162.7 1067.1,1162.6 1068.6,1162.4 1070.1,1163 1071.6,1162.5 1073.1,1163.1 1074.6,1162.6 1076.1,1163 1077.6,1162.9 1079.1,1163.2 1080.6,1166.7 1082.1,1168.2 1083.6,1167.7 1085.1,1168.3 1086.6,1167.1 1088.1,1166.4 1089.6,1166 1091.1,1165.1 1092.6,1164.3 1094.1,1165 1095.6,1164 1097.1,1163.7 1098.6,1164.2 1100.1,1164 1101.6,1164.2 1103.1,1164.3 1104.6,1164.5 1106.1,1165.3 1107.6,1165.2 1109.1,1165.8 1110.6,1165.7 1112.1,1165.8 1113.6,1166.4 1115.1,1166 1116.6,1166.2 1118.1,1166.6 1119.6,1165.9 1121.1,1165.8 1122.6,1166.5 1124.1,1166.3 1125.6,1165.7 1127.1,1165.6 1128.6,1166 1130.1,1166.2 1131.6,1165.2 1133.1,1165.6 1134.6,1165.2 1136.1,1164.6 1137.6,1164.1 1139.1,1163.4 1140.6,1163.8 1142.1,1164.3 1143.6,1163.1 1145.1,1163.2 1146.6,1162.9 1148.1,1163.6 1149.6,1163.5 1151.1,1163.3 1152.6,1163.3 1154.1,1164 1155.6,1163.5 1157.1,1163.8 1158.6,1164.2 1160.1,1164.6 1161.6,1164.5 1163.1,1165.3 1164.6,1167.5 1166.1,1168 1167.6,1168.3 1169.1,1169.1 1170.6,1169.9 1172.1,1170 1173.6,1170.7 1175.1,1171.4 1176.6,1172.2 1178.1,1172.3 1179.6,1173.1 1181.1,1174.2 1182.6,1174.8 1184.1,1175 1185.6,1175.1 1187.1,1175.1 1188.6,1174.7 1190.1,1174.7 1191.6,1174.7 1193.1,1175.7 1194.6,1175.5 1196.1,1175.9 1197.6,1175 1199.1,1176.1 1200.6,1176.3 1202.1,1177 1203.6,1177 1205.1,1178.1 1206.6,1177.6 1208.1,1178.2 1209.6,1178.6 1211.1,1179 1212.6,1179 1214.1,1179.1 1215.6,1179.4 1217.1,1179.7 1218.6,1179.4 1220.1,1179.9 1221.6,1180.3 1223.1,1180.5 1224.6,1180.1 1226.1,1180.5 1227.6,1180.7 1229.1,1180.4 1230.6,1180.5 1232.1,1180.4 1233.6,1180.6 1235.1,1180.7 1236.6,1180.2 1238.1,1180.9 1239.6,1181.3 1241.1,1181.2 1242.6,1181.1 1244.1,1180.9 1245.6,1181.6 1247.1,1181.7 1248.6,1181.9 1250.1,1182.6 1251.6,1182.2 1253.1,1183.1 1254.6,1182.4 1256.1,1183 1257.6,1182.9 1259.1,1182.7 1260.6,1183.2 1262.1,1183 1263.6,1183.2 1265.1,1183.5 1266.6,1182.9 1268.1,1182.7 1269.6,1183 1271.1,1183.4 1272.6,1183 1274.1,1183 1275.6,1183.8 1277.1,1183.5 1278.6,1183.3 1280.1,1183.5 1281.6,1182.8 1283.1,1182.9 1284.6,1182.2 1286.1,1182.3 1287.6,1182.4 1289.1,1182.3 1290.6,1182.1 1292.1,1181.4 1293.6,1181.5 1295.1,1181 1296.6,1180.7 1298.1,1180.9 1299.6,1181.1 1301.1,1181 1302.6,1180.7 1304.1,1180.8 1305.6,1180 1307.1,1179.7 1308.6,1179.8 1310.1,1179.5 1311.6,1179.5 1313.1,1179.7 1314.6,1180 1316.1,1179.9 1317.6,1179.8 1319.1,1180.3 1320.6,1180.5 1322.1,1180.1 1323.6,1179.7 1325.1,1179.7 1326.6,1180.6 1328.1,1179.8 1329.6,1180.5 1331.1,1180.7 1332.6,1181.4 1334.1,1182.9 1334.6,1182.8 1334.6,1304.3 1333.4,1304.3 1333.4,1302.9 1330.6,1302.9 1330.6,1305.8 1328.5,1305.8 1328.5,1304 1326.4,1304 1326.4,1306.7 1324.4,1306.7 1324.4,1304.3 1321.9,1304.3 1321.9,1304.4 1319.8,1304.4 1319.8,1307.1 1317.8,1307.1 1317.8,1303.8 1315.4,1303.8 1315.4,1303.2 1312.9,1303.2 1312.9,1302.9 1311.8,1302.9 1311.8,1304.9 1309.8,1304.9 1309.8,1302.8 1307.1,1302.8 1307.1,1307 1305.3,1307 1305.3,1303.9 1303.7,1303.9 1303.7,1307.2 1301.8,1307.2 1301.8,1304.4 1299,1304.4 1299,1303.7 1297.9,1303.7 1297.9,1306.3 1296.3,1306.3 1296.3,1303.5 1294.2,1303.5 1294.2,1306.4 1292.1,1306.4 1292.1,1303 1290.1,1303 1290.1,1303.1 1287.3,1303.1 1287.3,1306.4 1285.5,1306.4 1285.5,1302.6 1283.4,1302.6 1283.4,1305.4 1282,1305.4 1282,1303.6 1279.4,1303.6 1279.4,1305.3 1277.5,1305.3 1277.5,1303.5 1274.8,1303.5 1274.8,1307.3 1273.1,1307.3 1273.1,1304.1 1271.5,1304.1 1271.5,1304.4 1269.4,1304.4 1269.4,1308.5 1267.4,1308.5 1267.4,1305.5 1264.5,1305.5 1264.5,1308.3 1262.4,1308.3 1262.4,1306.2 1260.6,1306.2 1260.6,1309.1 1258.6,1309.1 1258.6,1306 1255.8,1306 1255.8,1309 1254.3,1309 1254.3,1306.8 1251.9,1306.8 1251.9,1309.9 1250.5,1309.9 1250.5,1307.3 1248.9,1307.3 1248.9,1309.2 1247.3,1309.2 1247.3,1305.9 1244.5,1305.9 1244.5,1309.5 1243,1309.5 1243,1306.3 1240.5,1306.3 1240.5,1308.1 1238.6,1308.1 1238.6,1305 1236.2,1305 1236.2,1307.8 1234.8,1307.8 1234.8,1304.4 1231.8,1304.4 1231.8,1305.6 1229.8,1305.6 1229.8,1302.6 1227.9,1302.6 1227.9,1304.6 1226.2,1304.6 1226.2,1301.5 1224.7,1301.5 1224.7,1303.7 1222.8,1303.7 1222.8,1301.5 1220.1,1301.5 1220.1,1301.2 1217.5,1301.2 1217.5,1301.3 1215.6,1301.3 1215.6,1301.2 1213.5,1301.2 1213.5,1300.2 1210.6,1300.2 1210.6,1299.7 1207.9,1299.7 1207.9,1299 1206.8,1299 1206.8,1301.4 1205.3,1301.4 1205.3,1299.2 1202.7,1299.2 1202.7,1301.6 1200.8,1301.6 1200.8,1298.7 1198.4,1298.7 1198.4,1297.9 1197.3,1297.9 1197.3,1301.6 1195.5,1301.6 1195.5,1298.9 1193.8,1298.9 1193.8,1298.2 1191.1,1298.2 1191.1,1298.7 1189.1,1298.7 1189.1,1295.8 1186.8,1295.8 1186.8,1294.4 1184.4,1294.4 1184.4,1295.8 1183,1295.8 1183,1292.9 1181.5,1292.9 1181.5,1294.8 1179.5,1294.8 1179.5,1291.4 1176.5,1291.4 1176.5,1291.7 1174.1,1291.7 1174.1,1290.5 1171.8,1290.5 1171.8,1292.5 1170.2,1292.5 1170.2,1289.4 1168.3,1289.4 1168.3,1286.9 1167.3,1286.9 1167.3,1291.3 1165.1,1291.3 1165.1,1284.7 1162.6,1284.7 1162.6,1276.8 1159.6,1276.8 1159.6,1268.5 1157.1,1268.5 1157.1,1265.4 1154.1,1265.4 1154.1,1261 1150.9,1261 1150.9,1265.2 1148.4,1265.2 1148.4,1260.6 1145.1,1260.6 1145.1,1258.7 1143.9,1258.7 1143.9,1265.7 1141.9,1265.7 1141.9,1261.6 1138.8,1261.6 1138.8,1264.2 1136,1264.2 1136,1258.4 1133.2,1258.4 1133.2,1260.3 1130.8,1260.3 1130.8,1253.3 1128.2,1253.3 1128.2,1240 1126.4,1240 1126.4,1253.1 1123.3,1253.1 1123.3,1240.5 1121.3,1240.5 1121.3,1235.9 1119.9,1235.9 1119.9,1246.8 1118.2,1246.8 1118.2,1242.2 1115.3,1242.2 1115.3,1240.9 1113.4,1240.9 1113.4,1235.9 1111.9,1235.9 1111.9,1245 1109.1,1245 1109.1,1237.9 1105.4,1237.9 1105.4,1249.2 1103.7,1249.2 1103.7,1240 1101.4,1240 1101.4,1233.9 1099.8,1233.9 1099.8,1249 1097.7,1249 1097.7,1240.2 1094,1240.2 1094,1243.9 1090.8,1243.9 1090.8,1239.4 1087.8,1239.4 1087.8,1231.9 1086.6,1231.9 1086.6,1245.3 1084.3,1245.3 1084.3,1235.2 1081.3,1235.2 1081.3,1226.7 1080,1226.7 1080,1241.4 1078.2,1241.4 1078.2,1229.9 1075.7,1229.9 1075.7,1235.2 1073.8,1235.2 1073.8,1229.9 1071.9,1229.9 1071.9,1236.4 1069.9,1236.4 1069.9,1226.9 1066,1226.9 1066,1233.4 1064.1,1233.4 1064.1,1224.2 1060.1,1224.2 1060.1,1232.5 1057.6,1232.5 1057.6,1227.4 1054.7,1227.4 1054.7,1240.1 1052.4,1240.1 1052.4,1234.4 1050.7,1234.4 1050.7,1240.6 1048.1,1240.6 1048.1,1232.4 1045.2,1232.4 1045.2,1230.9 1043,1230.9 1043,1240.5 1040.7,1240.5 1040.7,1230.8 1036.9,1230.8 1036.9,1222.1 1035.5,1222.1 1035.5,1233 1033.5,1233 1033.5,1227 1030.6,1227 1030.6,1226.1 1026.8,1226.1 1026.8,1219.8 1025.6,1219.8 1025.6,1235.7 1023.4,1235.7 1023.4,1228.2 1021.7,1228.2 1021.7,1225 1018.8,1225 1018.8,1234.8 1016.4,1234.8 1016.4,1224.3 1012.6,1224.3 1012.6,1229.2 1009.6,1229.2 1009.6,1224.8 1005.4,1224.8 1005.4,1221.7 1002,1221.7 1002,1234.2 999.1,1234.2 999.1,1223.3 996.2,1223.3 996.2,1222.3 992.4,1222.3 992.4,1226.1 989.1,1226.1 989.1,1218.6 987.2,1218.6 987.2,1221 985.4,1221 985.4,1220.9 982.7,1220.9 982.7,1228.6 980.2,1228.6 980.2,1219.9 977.9,1219.9 977.9,1216.1 976.6,1216.1 976.6,1228 974.1,1228 974.1,1222.2 970,1222.2 970,1220.5 966.8,1220.5 966.8,1214.1 965.6,1214.1 965.6,1225.8 962.6,1225.8 962.6,1219.5 960.6,1219.5"/>
<text x="1501.8" y="981.8" font-weight="bold" style="font-size:30.5px">l</text>
<line x1="1651.5" y1="1097.2" x2="1651.5" y2="1349.5" stroke="#000" stroke-width="2.5" stroke-linecap="butt"/>
<line x1="1643.8" y1="1098.4" x2="1651.5" y2="1098.4" stroke="#000" stroke-width="2.5" stroke-linecap="butt"/>
<text x="1641" y="1107" text-anchor="end">20</text>
<line x1="1643.8" y1="1160.9" x2="1651.5" y2="1160.9" stroke="#000" stroke-width="2.5" stroke-linecap="butt"/>
<text x="1641" y="1169.5" text-anchor="end">15</text>
<line x1="1643.8" y1="1223.3" x2="1651.5" y2="1223.3" stroke="#000" stroke-width="2.5" stroke-linecap="butt"/>
<text x="1641" y="1231.9" text-anchor="end">10</text>
<line x1="1643.8" y1="1285.8" x2="1651.5" y2="1285.8" stroke="#000" stroke-width="2.5" stroke-linecap="butt"/>
<text x="1641" y="1294.4" text-anchor="end">5</text>
<line x1="1643.8" y1="1348.2" x2="1651.5" y2="1348.2" stroke="#000" stroke-width="2.5" stroke-linecap="butt"/>
<text x="1641" y="1356.8" text-anchor="end">0</text>
<line x1="1643.8" y1="1348.2" x2="1849" y2="1348.2" stroke="#000" stroke-width="2.5" stroke-linecap="butt"/>
<line x1="1681.1" y1="1348.2" x2="1681.1" y2="1355.9" stroke="#000" stroke-width="2.5" stroke-linecap="butt"/>
<line x1="1726.7" y1="1348.2" x2="1726.7" y2="1355.9" stroke="#000" stroke-width="2.5" stroke-linecap="butt"/>
<line x1="1772" y1="1348.2" x2="1772" y2="1355.9" stroke="#000" stroke-width="2.5" stroke-linecap="butt"/>
<line x1="1817.3" y1="1348.2" x2="1817.3" y2="1355.9" stroke="#000" stroke-width="2.5" stroke-linecap="butt"/>
<text x="1599" y="1221.5" text-anchor="middle" transform="rotate(-90 1599 1221.5)">% cell shortening</text>
<rect x="1667.9" y="1243.1" width="26.4" height="105.1" fill="#a1a0a5" stroke="#000" stroke-width="2.2"/>
<rect x="1713.5" y="1215.3" width="26.4" height="132.9" fill="url(#gF)" stroke="#000" stroke-width="2.2"/>
<rect x="1758.8" y="1200.7" width="26.4" height="147.5" fill="url(#dB)" stroke="#000" stroke-width="2.2"/>
<rect x="1804.1" y="1195.6" width="26.4" height="152.6" fill="url(#rB)" stroke="#000" stroke-width="2.2"/>
<line x1="1681.1" y1="1229.2" x2="1681.1" y2="1254.2" stroke="#000" stroke-width="2.1" stroke-linecap="butt"/>
<line x1="1673.9" y1="1229.2" x2="1688.3" y2="1229.2" stroke="#000" stroke-width="2.1" stroke-linecap="butt"/>
<line x1="1673.9" y1="1254.2" x2="1688.3" y2="1254.2" stroke="#000" stroke-width="2.1" stroke-linecap="butt"/>
<line x1="1726.7" y1="1205.5" x2="1726.7" y2="1222.7" stroke="#000" stroke-width="2.1" stroke-linecap="butt"/>
<line x1="1719.5" y1="1205.5" x2="1733.9" y2="1205.5" stroke="#000" stroke-width="2.1" stroke-linecap="butt"/>
<line x1="1719.5" y1="1222.7" x2="1733.9" y2="1222.7" stroke="#000" stroke-width="2.1" stroke-linecap="butt"/>
<line x1="1772" y1="1189.8" x2="1772" y2="1209.9" stroke="#000" stroke-width="2.1" stroke-linecap="butt"/>
<line x1="1764.8" y1="1189.8" x2="1779.2" y2="1189.8" stroke="#000" stroke-width="2.1" stroke-linecap="butt"/>
<line x1="1764.8" y1="1209.9" x2="1779.2" y2="1209.9" stroke="#000" stroke-width="2.1" stroke-linecap="butt"/>
<line x1="1817.3" y1="1183.3" x2="1817.3" y2="1205.9" stroke="#000" stroke-width="2.1" stroke-linecap="butt"/>
<line x1="1810.1" y1="1183.3" x2="1824.5" y2="1183.3" stroke="#000" stroke-width="2.1" stroke-linecap="butt"/>
<line x1="1810.1" y1="1205.9" x2="1824.5" y2="1205.9" stroke="#000" stroke-width="2.1" stroke-linecap="butt"/>
<circle cx="1680" cy="1194.1" r="2.9"/>
<circle cx="1682.9" cy="1195.7" r="2.9"/>
<circle cx="1681" cy="1212.8" r="2.9"/>
<circle cx="1681" cy="1222.3" r="2.9"/>
<circle cx="1681" cy="1239" r="2.9"/>
<circle cx="1681" cy="1260.5" r="2.9"/>
<circle cx="1681" cy="1276.3" r="2.9"/>
<circle cx="1681" cy="1283.4" r="2.9"/>
<circle cx="1681" cy="1290.3" r="2.9"/>
<circle cx="1726.7" cy="1155.7" r="2.9"/>
<circle cx="1726.7" cy="1201" r="2.9"/>
<circle cx="1725.1" cy="1214.8" r="2.9"/>
<circle cx="1728.7" cy="1211.5" r="2.9"/>
<circle cx="1726.7" cy="1219.7" r="2.9"/>
<circle cx="1725.1" cy="1222.7" r="2.9"/>
<circle cx="1727.7" cy="1226.6" r="2.9"/>
<circle cx="1726.7" cy="1231.5" r="2.9"/>
<circle cx="1726.7" cy="1245.9" r="2.9"/>
<circle cx="1772" cy="1147.4" r="2.9"/>
<circle cx="1769.6" cy="1183.3" r="2.9"/>
<circle cx="1774.6" cy="1183.3" r="2.9"/>
<circle cx="1772" cy="1204" r="2.9"/>
<circle cx="1772" cy="1210.5" r="2.9"/>
<circle cx="1770" cy="1213.8" r="2.9"/>
<circle cx="1774" cy="1214.8" r="2.9"/>
<circle cx="1772" cy="1230.6" r="2.9"/>
<circle cx="1772" cy="1245.3" r="2.9"/>
<circle cx="1817.3" cy="1145.8" r="2.9"/>
<circle cx="1814.4" cy="1171.5" r="2.9"/>
<circle cx="1820.3" cy="1170.5" r="2.9"/>
<circle cx="1817.3" cy="1191.8" r="2.9"/>
<circle cx="1817.3" cy="1204" r="2.9"/>
<circle cx="1817.3" cy="1210.9" r="2.9"/>
<circle cx="1815.9" cy="1244.7" r="2.9"/>
<circle cx="1819.3" cy="1244.4" r="2.9"/>
<circle cx="1771.8" cy="1180.3" r="2.9"/>
<circle cx="1817.5" cy="1169.4" r="2.9"/>
<polyline fill="none" stroke="#000" stroke-width="2.3" points="1680,1097.3 1680,1091.3 1771.6,1091.3 1771.6,1097.3"/>
<text x="1727" y="1094.9" text-anchor="middle" style="font-size:25.5px" letter-spacing="2.6" class="st">*</text>
<line x1="1727.7" y1="1128.5" x2="1818.4" y2="1128.5" stroke="#000" stroke-width="2" stroke-linecap="butt"/>
<text x="1774.7" y="1123.3" text-anchor="middle">n.s.</text>
<text x="1639.8" y="1382.7" text-anchor="end" style="font-size:23.4px">Vehicle</text>
<text x="1681.7" y="1388.3" text-anchor="middle" style="font-size:30px" class="pm">+</text>
<text x="1727.3" y="1388.3" text-anchor="middle" style="font-size:30px" class="pm">+</text>
<text x="1772.6" y="1388.3" text-anchor="middle" style="font-size:30px" class="pm">+</text>
<text x="1817.9" y="1388.3" text-anchor="middle" style="font-size:30px" class="pm">+</text>
<text x="1639.8" y="1409.3" text-anchor="end" style="font-size:23.4px">CNP (100 nM)</text>
<text x="1681.7" y="1413.6" text-anchor="middle" style="font-size:30px" class="pm">-</text>
<text x="1727.3" y="1414.9" text-anchor="middle" style="font-size:30px" class="pm">+</text>
<text x="1772.6" y="1414.9" text-anchor="middle" style="font-size:30px" class="pm">+</text>
<text x="1817.9" y="1414.9" text-anchor="middle" style="font-size:30px" class="pm">+</text>
<text x="1639.8" y="1437.7" text-anchor="end" style="font-size:23.4px">PDE3 inhibitor (1µM)</text>
<text x="1681.7" y="1442" text-anchor="middle" style="font-size:30px" class="pm">-</text>
<text x="1727.3" y="1442" text-anchor="middle" style="font-size:30px" class="pm">-</text>
<text x="1772.6" y="1443.3" text-anchor="middle" style="font-size:30px" class="pm">+</text>
<text x="1817.9" y="1443.3" text-anchor="middle" style="font-size:30px" class="pm">+</text>
<text x="1639.8" y="1466" text-anchor="end" style="font-size:23.4px">Musclin (10 nM)</text>
<text x="1681.7" y="1470.3" text-anchor="middle" style="font-size:30px" class="pm">-</text>
<text x="1727.3" y="1470.3" text-anchor="middle" style="font-size:30px" class="pm">-</text>
<text x="1772.6" y="1470.3" text-anchor="middle" style="font-size:30px" class="pm">-</text>
<text x="1817.9" y="1471.6" text-anchor="middle" style="font-size:30px" class="pm">+</text>
</svg></body></html>
